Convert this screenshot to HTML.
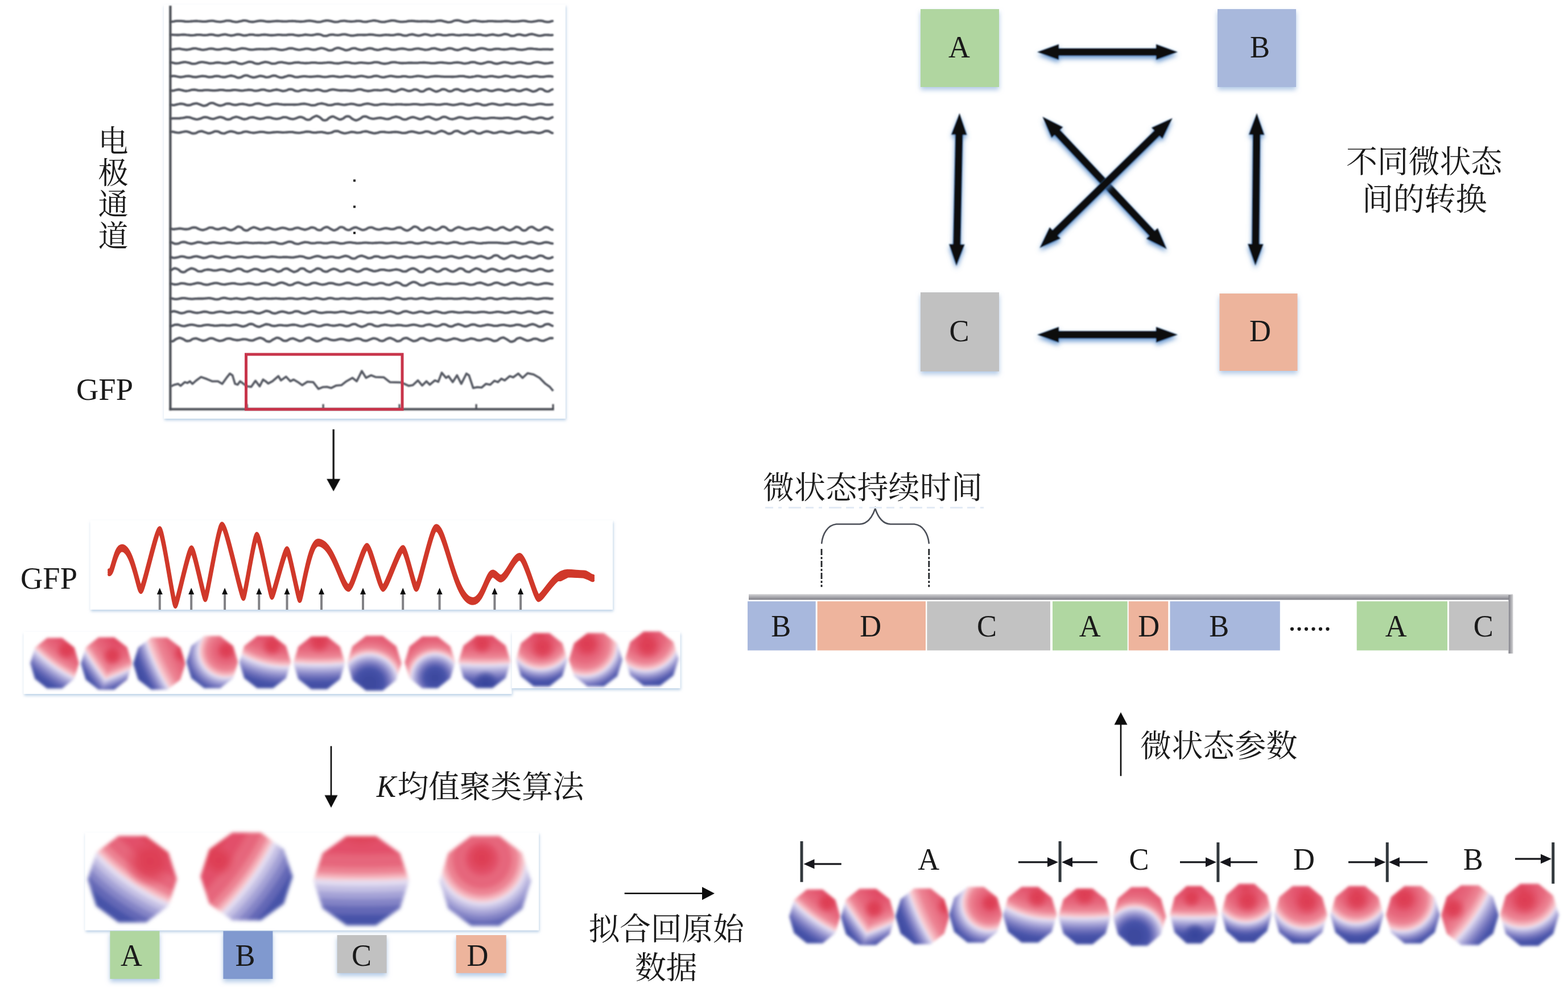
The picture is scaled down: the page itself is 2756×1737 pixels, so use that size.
<!DOCTYPE html>
<html><head><meta charset="utf-8"><title>EEG microstate analysis</title>
<style>html,body{margin:0;padding:0;background:#fff}svg{display:block}text{font-family:"Liberation Serif","Noto Serif CJK SC",serif}</style></head>
<body><svg width="2756" height="1737" viewBox="0 0 2756 1737">
<defs><filter id="bl0_5" x="-10%" y="-10%" width="120%" height="120%"><feGaussianBlur stdDeviation="0.5"/></filter><filter id="bl0_7" x="-10%" y="-10%" width="120%" height="120%"><feGaussianBlur stdDeviation="0.7"/></filter><filter id="bl0_9" x="-10%" y="-10%" width="120%" height="120%"><feGaussianBlur stdDeviation="0.9"/></filter><filter id="bl1_1" x="-10%" y="-10%" width="120%" height="120%"><feGaussianBlur stdDeviation="1.1"/></filter><filter id="bl1_3" x="-10%" y="-10%" width="120%" height="120%"><feGaussianBlur stdDeviation="1.3"/></filter><filter id="bl1_6" x="-10%" y="-10%" width="120%" height="120%"><feGaussianBlur stdDeviation="1.6"/></filter><filter id="bl2_0" x="-10%" y="-10%" width="120%" height="120%"><feGaussianBlur stdDeviation="2.0"/></filter><filter id="bl2_5" x="-10%" y="-10%" width="120%" height="120%"><feGaussianBlur stdDeviation="2.5"/></filter><filter id="bl2_8" x="-10%" y="-10%" width="120%" height="120%"><feGaussianBlur stdDeviation="2.8"/></filter><filter id="bl3_0" x="-10%" y="-10%" width="120%" height="120%"><feGaussianBlur stdDeviation="3.0"/></filter><filter id="shp" x="-5%" y="-5%" width="110%" height="115%"><feDropShadow dx="1" dy="3" stdDeviation="2.4" flood-color="#a9c4e0" flood-opacity="0.8"/></filter><filter id="shb" x="-15%" y="-15%" width="130%" height="140%"><feDropShadow dx="0" dy="5" stdDeviation="4" flood-color="#9dbbe0" flood-opacity="0.8"/></filter><filter id="sha" filterUnits="userSpaceOnUse" x="1640" y="40" width="660" height="620"><feGaussianBlur in="SourceGraphic" stdDeviation="0.9" result="b"/><feDropShadow in="b" dx="0" dy="5" stdDeviation="4" flood-color="#4f86c8" flood-opacity="0.85"/></filter><radialGradient id="hot"><stop offset="0" stop-color="#dd3c52" stop-opacity="1"/><stop offset="0.45" stop-color="#de4056" stop-opacity="0.85"/><stop offset="0.75" stop-color="#e04a60" stop-opacity="0.4"/><stop offset="1" stop-color="#e2506a" stop-opacity="0"/></radialGradient><radialGradient id="rblob"><stop offset="0" stop-color="#e6667b" stop-opacity="1"/><stop offset="0.5" stop-color="#ec8292" stop-opacity="0.9"/><stop offset="0.8" stop-color="#f3a8b3" stop-opacity="0.6"/><stop offset="1" stop-color="#f7ccd2" stop-opacity="0"/></radialGradient><radialGradient id="cool"><stop offset="0" stop-color="#36439b" stop-opacity="1"/><stop offset="0.5" stop-color="#3a479d" stop-opacity="0.8"/><stop offset="1" stop-color="#3c489e" stop-opacity="0"/></radialGradient><radialGradient id="bblob"><stop offset="0" stop-color="#4652a8" stop-opacity="1"/><stop offset="0.45" stop-color="#6468b6" stop-opacity="0.9"/><stop offset="0.75" stop-color="#a4a2d6" stop-opacity="0.6"/><stop offset="1" stop-color="#c4c0e4" stop-opacity="0"/></radialGradient><linearGradient id="barg" x1="0" y1="0" x2="0" y2="1"><stop offset="0" stop-color="#d4d4d6"/><stop offset="1" stop-color="#7e7e86"/></linearGradient><linearGradient id="barv" x1="0" y1="0" x2="1" y2="0"><stop offset="0" stop-color="#7e7e86"/><stop offset="1" stop-color="#d4d4d6"/></linearGradient><radialGradient id="m1" gradientUnits="userSpaceOnUse" cx="242.1" cy="964.8" r="300.8"><stop offset="0.6099" stop-color="#dd3d53"/><stop offset="0.6188" stop-color="#dd3d53"/><stop offset="0.6892" stop-color="#e2506a"/><stop offset="0.6959" stop-color="#e2506a"/><stop offset="0.7522" stop-color="#e6667b"/><stop offset="0.7580" stop-color="#e6667b"/><stop offset="0.7952" stop-color="#ec8292"/><stop offset="0.7977" stop-color="#ec8292"/><stop offset="0.8163" stop-color="#f3a8b3"/><stop offset="0.8179" stop-color="#f3a8b3"/><stop offset="0.8310" stop-color="#f7ccd2"/><stop offset="0.8378" stop-color="#f7ccd2"/><stop offset="0.8378" stop-color="#e2dcf0"/><stop offset="0.8451" stop-color="#e2dcf0"/><stop offset="0.8587" stop-color="#c4c0e4"/><stop offset="0.8604" stop-color="#c4c0e4"/><stop offset="0.8760" stop-color="#a4a2d6"/><stop offset="0.8777" stop-color="#a4a2d6"/><stop offset="0.8943" stop-color="#8484c6"/><stop offset="0.8962" stop-color="#8484c6"/><stop offset="0.9148" stop-color="#6468b6"/><stop offset="0.9171" stop-color="#6468b6"/><stop offset="0.9392" stop-color="#4652a8"/><stop offset="0.9419" stop-color="#4652a8"/><stop offset="0.9916" stop-color="#3c489e"/><stop offset="1.0000" stop-color="#3c489e"/></radialGradient><clipPath id="c1"><polygon points="138.8,1166.0 130.7,1138.6 109.2,1121.6 82.8,1121.6 61.3,1138.6 53.2,1166.0 61.3,1193.4 82.8,1210.4 109.2,1210.4 130.7,1193.4"/></clipPath><radialGradient id="m2" gradientUnits="userSpaceOnUse" cx="742.3" cy="763.0" r="744.1"><stop offset="0.8496" stop-color="#dd3d53"/><stop offset="0.8533" stop-color="#dd3d53"/><stop offset="0.8831" stop-color="#e2506a"/><stop offset="0.8860" stop-color="#e2506a"/><stop offset="0.9098" stop-color="#e6667b"/><stop offset="0.9123" stop-color="#e6667b"/><stop offset="0.9280" stop-color="#ec8292"/><stop offset="0.9291" stop-color="#ec8292"/><stop offset="0.9369" stop-color="#f3a8b3"/><stop offset="0.9377" stop-color="#f3a8b3"/><stop offset="0.9432" stop-color="#f7ccd2"/><stop offset="0.9461" stop-color="#f7ccd2"/><stop offset="0.9461" stop-color="#e2dcf0"/><stop offset="0.9482" stop-color="#e2dcf0"/><stop offset="0.9523" stop-color="#c4c0e4"/><stop offset="0.9528" stop-color="#c4c0e4"/><stop offset="0.9574" stop-color="#a4a2d6"/><stop offset="0.9579" stop-color="#a4a2d6"/><stop offset="0.9628" stop-color="#8484c6"/><stop offset="0.9634" stop-color="#8484c6"/><stop offset="0.9689" stop-color="#6468b6"/><stop offset="0.9696" stop-color="#6468b6"/><stop offset="0.9761" stop-color="#4652a8"/><stop offset="0.9769" stop-color="#4652a8"/><stop offset="0.9965" stop-color="#3c489e"/><stop offset="1.0000" stop-color="#3c489e"/></radialGradient><clipPath id="c2"><polygon points="231.9,1166.5 223.3,1138.1 200.9,1120.6 173.1,1120.6 150.7,1138.1 142.1,1166.5 150.7,1194.9 173.1,1212.4 200.9,1212.4 223.3,1194.9"/></clipPath><radialGradient id="m2v" gradientUnits="userSpaceOnUse" cx="-56.5" cy="532.3" r="744.1"><stop offset="0.8496" stop-color="#dd3d53"/><stop offset="0.8533" stop-color="#dd3d53"/><stop offset="0.8831" stop-color="#e2506a"/><stop offset="0.8860" stop-color="#e2506a"/><stop offset="0.9098" stop-color="#e6667b"/><stop offset="0.9123" stop-color="#e6667b"/><stop offset="0.9280" stop-color="#ec8292"/><stop offset="0.9291" stop-color="#ec8292"/><stop offset="0.9369" stop-color="#f3a8b3"/><stop offset="0.9377" stop-color="#f3a8b3"/><stop offset="0.9432" stop-color="#f7ccd2"/><stop offset="0.9461" stop-color="#f7ccd2"/><stop offset="0.9461" stop-color="#e2dcf0"/><stop offset="0.9482" stop-color="#e2dcf0"/><stop offset="0.9523" stop-color="#c4c0e4"/><stop offset="0.9528" stop-color="#c4c0e4"/><stop offset="0.9574" stop-color="#a4a2d6"/><stop offset="0.9579" stop-color="#a4a2d6"/><stop offset="0.9628" stop-color="#8484c6"/><stop offset="0.9634" stop-color="#8484c6"/><stop offset="0.9689" stop-color="#6468b6"/><stop offset="0.9696" stop-color="#6468b6"/><stop offset="0.9761" stop-color="#4652a8"/><stop offset="0.9769" stop-color="#4652a8"/><stop offset="0.9965" stop-color="#3c489e"/><stop offset="1.0000" stop-color="#3c489e"/></radialGradient><radialGradient id="m3" gradientUnits="userSpaceOnUse" cx="601.4" cy="1016.8" r="404.8"><stop offset="0.6353" stop-color="#dd3d53"/><stop offset="0.6453" stop-color="#dd3d53"/><stop offset="0.7237" stop-color="#e2506a"/><stop offset="0.7312" stop-color="#e2506a"/><stop offset="0.7940" stop-color="#e6667b"/><stop offset="0.8004" stop-color="#e6667b"/><stop offset="0.8419" stop-color="#ec8292"/><stop offset="0.8446" stop-color="#ec8292"/><stop offset="0.8654" stop-color="#f3a8b3"/><stop offset="0.8672" stop-color="#f3a8b3"/><stop offset="0.8818" stop-color="#f7ccd2"/><stop offset="0.8893" stop-color="#f7ccd2"/><stop offset="0.8893" stop-color="#e2dcf0"/><stop offset="0.8940" stop-color="#e2dcf0"/><stop offset="0.9027" stop-color="#c4c0e4"/><stop offset="0.9037" stop-color="#c4c0e4"/><stop offset="0.9137" stop-color="#a4a2d6"/><stop offset="0.9148" stop-color="#a4a2d6"/><stop offset="0.9254" stop-color="#8484c6"/><stop offset="0.9266" stop-color="#8484c6"/><stop offset="0.9384" stop-color="#6468b6"/><stop offset="0.9398" stop-color="#6468b6"/><stop offset="0.9539" stop-color="#4652a8"/><stop offset="0.9556" stop-color="#4652a8"/><stop offset="0.9933" stop-color="#3c489e"/><stop offset="1.0000" stop-color="#3c489e"/></radialGradient><clipPath id="c3"><polygon points="325.9,1166.7 317.1,1138.3 294.2,1120.8 265.8,1120.8 242.9,1138.3 234.1,1166.7 242.9,1195.1 265.8,1212.6 294.2,1212.6 317.1,1195.1"/></clipPath><radialGradient id="m4" gradientUnits="userSpaceOnUse" cx="396.9" cy="1144.0" r="92.4"><stop offset="0.0000" stop-color="#dd3d53"/><stop offset="0.0000" stop-color="#dd3d53"/><stop offset="0.0000" stop-color="#e2506a"/><stop offset="0.0116" stop-color="#e2506a"/><stop offset="0.2057" stop-color="#e6667b"/><stop offset="0.2257" stop-color="#e6667b"/><stop offset="0.3539" stop-color="#ec8292"/><stop offset="0.3624" stop-color="#ec8292"/><stop offset="0.4265" stop-color="#f3a8b3"/><stop offset="0.4323" stop-color="#f3a8b3"/><stop offset="0.4774" stop-color="#f7ccd2"/><stop offset="0.5007" stop-color="#f7ccd2"/><stop offset="0.5007" stop-color="#e2dcf0"/><stop offset="0.5223" stop-color="#e2dcf0"/><stop offset="0.5621" stop-color="#c4c0e4"/><stop offset="0.5670" stop-color="#c4c0e4"/><stop offset="0.6126" stop-color="#a4a2d6"/><stop offset="0.6179" stop-color="#a4a2d6"/><stop offset="0.6665" stop-color="#8484c6"/><stop offset="0.6720" stop-color="#8484c6"/><stop offset="0.7266" stop-color="#6468b6"/><stop offset="0.7331" stop-color="#6468b6"/><stop offset="0.7979" stop-color="#4652a8"/><stop offset="0.8058" stop-color="#4652a8"/><stop offset="0.9711" stop-color="#3c489e"/><stop offset="1.0000" stop-color="#3c489e"/></radialGradient><clipPath id="c4"><polygon points="418.4,1164.0 409.7,1135.6 387.0,1118.1 359.0,1118.1 336.3,1135.6 327.6,1164.0 336.3,1192.4 359.0,1209.9 387.0,1209.9 409.7,1192.4"/></clipPath><radialGradient id="m5" gradientUnits="userSpaceOnUse" cx="502.0" cy="1019.8" r="203.0"><stop offset="0.3875" stop-color="#dd3d53"/><stop offset="0.4016" stop-color="#dd3d53"/><stop offset="0.5121" stop-color="#e2506a"/><stop offset="0.5226" stop-color="#e2506a"/><stop offset="0.6110" stop-color="#e6667b"/><stop offset="0.6201" stop-color="#e6667b"/><stop offset="0.6785" stop-color="#ec8292"/><stop offset="0.6823" stop-color="#ec8292"/><stop offset="0.7115" stop-color="#f3a8b3"/><stop offset="0.7142" stop-color="#f3a8b3"/><stop offset="0.7347" stop-color="#f7ccd2"/><stop offset="0.7453" stop-color="#f7ccd2"/><stop offset="0.7453" stop-color="#e2dcf0"/><stop offset="0.7569" stop-color="#e2dcf0"/><stop offset="0.7782" stop-color="#c4c0e4"/><stop offset="0.7808" stop-color="#c4c0e4"/><stop offset="0.8053" stop-color="#a4a2d6"/><stop offset="0.8081" stop-color="#a4a2d6"/><stop offset="0.8341" stop-color="#8484c6"/><stop offset="0.8371" stop-color="#8484c6"/><stop offset="0.8663" stop-color="#6468b6"/><stop offset="0.8698" stop-color="#6468b6"/><stop offset="0.9045" stop-color="#4652a8"/><stop offset="0.9087" stop-color="#4652a8"/><stop offset="0.9868" stop-color="#3c489e"/><stop offset="1.0000" stop-color="#3c489e"/></radialGradient><clipPath id="c5"><polygon points="511.4,1164.0 502.7,1135.6 480.0,1118.1 452.0,1118.1 429.3,1135.6 420.6,1164.0 429.3,1192.4 452.0,1209.9 480.0,1209.9 502.7,1192.4"/></clipPath><radialGradient id="m6" gradientUnits="userSpaceOnUse" cx="561.0" cy="722.2" r="496.7"><stop offset="0.7497" stop-color="#dd3d53"/><stop offset="0.7554" stop-color="#dd3d53"/><stop offset="0.8006" stop-color="#e2506a"/><stop offset="0.8049" stop-color="#e2506a"/><stop offset="0.8410" stop-color="#e6667b"/><stop offset="0.8447" stop-color="#e6667b"/><stop offset="0.8686" stop-color="#ec8292"/><stop offset="0.8702" stop-color="#ec8292"/><stop offset="0.8821" stop-color="#f3a8b3"/><stop offset="0.8832" stop-color="#f3a8b3"/><stop offset="0.8916" stop-color="#f7ccd2"/><stop offset="0.8959" stop-color="#f7ccd2"/><stop offset="0.8959" stop-color="#e2dcf0"/><stop offset="0.9006" stop-color="#e2dcf0"/><stop offset="0.9093" stop-color="#c4c0e4"/><stop offset="0.9104" stop-color="#c4c0e4"/><stop offset="0.9204" stop-color="#a4a2d6"/><stop offset="0.9216" stop-color="#a4a2d6"/><stop offset="0.9322" stop-color="#8484c6"/><stop offset="0.9334" stop-color="#8484c6"/><stop offset="0.9454" stop-color="#6468b6"/><stop offset="0.9468" stop-color="#6468b6"/><stop offset="0.9610" stop-color="#4652a8"/><stop offset="0.9627" stop-color="#4652a8"/><stop offset="0.9946" stop-color="#3c489e"/><stop offset="1.0000" stop-color="#3c489e"/></radialGradient><clipPath id="c6"><polygon points="606.4,1165.4 597.7,1136.7 575.0,1119.0 547.0,1119.0 524.3,1136.7 515.6,1165.4 524.3,1194.1 547.0,1211.8 575.0,1211.8 597.7,1194.1"/></clipPath><radialGradient id="m7" gradientUnits="userSpaceOnUse" cx="649.2" cy="1201.4" r="113.4"><stop offset="0.0513" stop-color="#3c489e"/><stop offset="0.0760" stop-color="#3c489e"/><stop offset="0.2158" stop-color="#4652a8"/><stop offset="0.2222" stop-color="#4652a8"/><stop offset="0.2744" stop-color="#6468b6"/><stop offset="0.2797" stop-color="#6468b6"/><stop offset="0.3236" stop-color="#8484c6"/><stop offset="0.3281" stop-color="#8484c6"/><stop offset="0.3673" stop-color="#a4a2d6"/><stop offset="0.3715" stop-color="#a4a2d6"/><stop offset="0.4083" stop-color="#c4c0e4"/><stop offset="0.4123" stop-color="#c4c0e4"/><stop offset="0.4443" stop-color="#e2dcf0"/><stop offset="0.4617" stop-color="#e2dcf0"/><stop offset="0.4617" stop-color="#f7ccd2"/><stop offset="0.4777" stop-color="#f7ccd2"/><stop offset="0.5086" stop-color="#f3a8b3"/><stop offset="0.5125" stop-color="#f3a8b3"/><stop offset="0.5565" stop-color="#ec8292"/><stop offset="0.5623" stop-color="#ec8292"/><stop offset="0.6501" stop-color="#e6667b"/><stop offset="0.6639" stop-color="#e6667b"/><stop offset="0.7968" stop-color="#e2506a"/><stop offset="0.8127" stop-color="#e2506a"/><stop offset="0.9789" stop-color="#dd3d53"/><stop offset="1.0000" stop-color="#dd3d53"/></radialGradient><clipPath id="c7"><polygon points="705.7,1166.0 696.6,1136.2 672.7,1117.7 643.3,1117.7 619.4,1136.2 610.3,1166.0 619.4,1195.8 643.3,1214.3 672.7,1214.3 696.6,1195.8"/></clipPath><radialGradient id="m8" gradientUnits="userSpaceOnUse" cx="764.6" cy="1191.8" r="100.3"><stop offset="0.0019" stop-color="#3c489e"/><stop offset="0.0279" stop-color="#3c489e"/><stop offset="0.1750" stop-color="#4652a8"/><stop offset="0.1817" stop-color="#4652a8"/><stop offset="0.2366" stop-color="#6468b6"/><stop offset="0.2422" stop-color="#6468b6"/><stop offset="0.2884" stop-color="#8484c6"/><stop offset="0.2931" stop-color="#8484c6"/><stop offset="0.3344" stop-color="#a4a2d6"/><stop offset="0.3388" stop-color="#a4a2d6"/><stop offset="0.3775" stop-color="#c4c0e4"/><stop offset="0.3817" stop-color="#c4c0e4"/><stop offset="0.4154" stop-color="#e2dcf0"/><stop offset="0.4337" stop-color="#e2dcf0"/><stop offset="0.4337" stop-color="#f7ccd2"/><stop offset="0.4505" stop-color="#f7ccd2"/><stop offset="0.4830" stop-color="#f3a8b3"/><stop offset="0.4872" stop-color="#f3a8b3"/><stop offset="0.5334" stop-color="#ec8292"/><stop offset="0.5395" stop-color="#ec8292"/><stop offset="0.6319" stop-color="#e6667b"/><stop offset="0.6464" stop-color="#e6667b"/><stop offset="0.7863" stop-color="#e2506a"/><stop offset="0.8029" stop-color="#e2506a"/><stop offset="0.9778" stop-color="#dd3d53"/><stop offset="1.0000" stop-color="#dd3d53"/></radialGradient><clipPath id="c8"><polygon points="800.1,1164.5 791.6,1136.4 769.4,1119.1 742.0,1119.1 719.8,1136.4 711.3,1164.5 719.8,1192.6 742.0,1209.9 769.4,1209.9 791.6,1192.6"/></clipPath><radialGradient id="m9" gradientUnits="userSpaceOnUse" cx="851.7" cy="628.0" r="592.3"><stop offset="0.7877" stop-color="#dd3d53"/><stop offset="0.7926" stop-color="#dd3d53"/><stop offset="0.8309" stop-color="#e2506a"/><stop offset="0.8345" stop-color="#e2506a"/><stop offset="0.8652" stop-color="#e6667b"/><stop offset="0.8683" stop-color="#e6667b"/><stop offset="0.8886" stop-color="#ec8292"/><stop offset="0.8899" stop-color="#ec8292"/><stop offset="0.9000" stop-color="#f3a8b3"/><stop offset="0.9009" stop-color="#f3a8b3"/><stop offset="0.9080" stop-color="#f7ccd2"/><stop offset="0.9117" stop-color="#f7ccd2"/><stop offset="0.9117" stop-color="#e2dcf0"/><stop offset="0.9157" stop-color="#e2dcf0"/><stop offset="0.9231" stop-color="#c4c0e4"/><stop offset="0.9240" stop-color="#c4c0e4"/><stop offset="0.9325" stop-color="#a4a2d6"/><stop offset="0.9335" stop-color="#a4a2d6"/><stop offset="0.9425" stop-color="#8484c6"/><stop offset="0.9435" stop-color="#8484c6"/><stop offset="0.9537" stop-color="#6468b6"/><stop offset="0.9549" stop-color="#6468b6"/><stop offset="0.9669" stop-color="#4652a8"/><stop offset="0.9684" stop-color="#4652a8"/><stop offset="0.9954" stop-color="#3c489e"/><stop offset="1.0000" stop-color="#3c489e"/></radialGradient><clipPath id="c9"><polygon points="897.6,1163.5 888.8,1135.1 865.9,1117.6 837.5,1117.6 814.6,1135.1 805.8,1163.5 814.6,1191.9 837.5,1209.4 865.9,1209.4 888.8,1191.9"/></clipPath><radialGradient id="m10" gradientUnits="userSpaceOnUse" cx="950.5" cy="1118.2" r="97.9"><stop offset="0.0000" stop-color="#dd3d53"/><stop offset="0.0000" stop-color="#dd3d53"/><stop offset="0.1067" stop-color="#e2506a"/><stop offset="0.1284" stop-color="#e2506a"/><stop offset="0.3106" stop-color="#e6667b"/><stop offset="0.3294" stop-color="#e6667b"/><stop offset="0.4498" stop-color="#ec8292"/><stop offset="0.4578" stop-color="#ec8292"/><stop offset="0.5180" stop-color="#f3a8b3"/><stop offset="0.5234" stop-color="#f3a8b3"/><stop offset="0.5657" stop-color="#f7ccd2"/><stop offset="0.5876" stop-color="#f7ccd2"/><stop offset="0.5876" stop-color="#e2dcf0"/><stop offset="0.6043" stop-color="#e2dcf0"/><stop offset="0.6351" stop-color="#c4c0e4"/><stop offset="0.6389" stop-color="#c4c0e4"/><stop offset="0.6742" stop-color="#a4a2d6"/><stop offset="0.6782" stop-color="#a4a2d6"/><stop offset="0.7158" stop-color="#8484c6"/><stop offset="0.7201" stop-color="#8484c6"/><stop offset="0.7622" stop-color="#6468b6"/><stop offset="0.7673" stop-color="#6468b6"/><stop offset="0.8174" stop-color="#4652a8"/><stop offset="0.8235" stop-color="#4652a8"/><stop offset="0.9729" stop-color="#3c489e"/><stop offset="1.0000" stop-color="#3c489e"/></radialGradient><clipPath id="c10"><polygon points="997.1,1159.8 988.5,1130.8 965.9,1112.9 938.1,1112.9 915.5,1130.8 906.9,1159.8 915.5,1188.8 938.1,1206.7 965.9,1206.7 988.5,1188.8"/></clipPath><radialGradient id="m11" gradientUnits="userSpaceOnUse" cx="1028.5" cy="1132.3" r="97.2"><stop offset="0.0000" stop-color="#dd3d53"/><stop offset="0.0000" stop-color="#dd3d53"/><stop offset="0.0644" stop-color="#e2506a"/><stop offset="0.0871" stop-color="#e2506a"/><stop offset="0.2780" stop-color="#e6667b"/><stop offset="0.2977" stop-color="#e6667b"/><stop offset="0.4238" stop-color="#ec8292"/><stop offset="0.4321" stop-color="#ec8292"/><stop offset="0.4952" stop-color="#f3a8b3"/><stop offset="0.5009" stop-color="#f3a8b3"/><stop offset="0.5452" stop-color="#f7ccd2"/><stop offset="0.5681" stop-color="#f7ccd2"/><stop offset="0.5681" stop-color="#e2dcf0"/><stop offset="0.5856" stop-color="#e2dcf0"/><stop offset="0.6178" stop-color="#c4c0e4"/><stop offset="0.6218" stop-color="#c4c0e4"/><stop offset="0.6587" stop-color="#a4a2d6"/><stop offset="0.6630" stop-color="#a4a2d6"/><stop offset="0.7023" stop-color="#8484c6"/><stop offset="0.7069" stop-color="#8484c6"/><stop offset="0.7510" stop-color="#6468b6"/><stop offset="0.7563" stop-color="#6468b6"/><stop offset="0.8088" stop-color="#4652a8"/><stop offset="0.8151" stop-color="#4652a8"/><stop offset="0.9716" stop-color="#3c489e"/><stop offset="1.0000" stop-color="#3c489e"/></radialGradient><clipPath id="c11"><polygon points="1093.9,1159.8 1085.0,1130.8 1061.5,1112.9 1032.5,1112.9 1009.0,1130.8 1000.1,1159.8 1009.0,1188.8 1032.5,1206.7 1061.5,1206.7 1085.0,1188.8"/></clipPath><radialGradient id="m12" gradientUnits="userSpaceOnUse" cx="1134.5" cy="1119.1" r="100.9"><stop offset="0.0000" stop-color="#dd3d53"/><stop offset="0.0000" stop-color="#dd3d53"/><stop offset="0.0985" stop-color="#e2506a"/><stop offset="0.1204" stop-color="#e2506a"/><stop offset="0.3043" stop-color="#e6667b"/><stop offset="0.3233" stop-color="#e6667b"/><stop offset="0.4448" stop-color="#ec8292"/><stop offset="0.4528" stop-color="#ec8292"/><stop offset="0.5136" stop-color="#f3a8b3"/><stop offset="0.5191" stop-color="#f3a8b3"/><stop offset="0.5618" stop-color="#f7ccd2"/><stop offset="0.5838" stop-color="#f7ccd2"/><stop offset="0.5838" stop-color="#e2dcf0"/><stop offset="0.6007" stop-color="#e2dcf0"/><stop offset="0.6317" stop-color="#c4c0e4"/><stop offset="0.6356" stop-color="#c4c0e4"/><stop offset="0.6712" stop-color="#a4a2d6"/><stop offset="0.6753" stop-color="#a4a2d6"/><stop offset="0.7132" stop-color="#8484c6"/><stop offset="0.7176" stop-color="#8484c6"/><stop offset="0.7601" stop-color="#6468b6"/><stop offset="0.7652" stop-color="#6468b6"/><stop offset="0.8158" stop-color="#4652a8"/><stop offset="0.8219" stop-color="#4652a8"/><stop offset="0.9726" stop-color="#3c489e"/><stop offset="1.0000" stop-color="#3c489e"/></radialGradient><clipPath id="c12"><polygon points="1192.6,1158.0 1183.7,1128.5 1160.2,1110.3 1131.2,1110.3 1107.7,1128.5 1098.8,1158.0 1107.7,1187.5 1131.2,1205.7 1160.2,1205.7 1183.7,1187.5"/></clipPath><radialGradient id="m13" gradientUnits="userSpaceOnUse" cx="441.4" cy="1247.4" r="474.6"><stop offset="0.5625" stop-color="#dd3d53"/><stop offset="0.6088" stop-color="#dd3d53"/><stop offset="0.6359" stop-color="#e2506a"/><stop offset="0.6706" stop-color="#e2506a"/><stop offset="0.6922" stop-color="#e6667b"/><stop offset="0.7223" stop-color="#e6667b"/><stop offset="0.7366" stop-color="#ec8292"/><stop offset="0.7494" stop-color="#ec8292"/><stop offset="0.7565" stop-color="#f3a8b3"/><stop offset="0.7652" stop-color="#f3a8b3"/><stop offset="0.7702" stop-color="#f7ccd2"/><stop offset="0.7787" stop-color="#f7ccd2"/><stop offset="0.7787" stop-color="#e2dcf0"/><stop offset="0.7920" stop-color="#e2dcf0"/><stop offset="0.7994" stop-color="#c4c0e4"/><stop offset="0.8118" stop-color="#c4c0e4"/><stop offset="0.8204" stop-color="#a4a2d6"/><stop offset="0.8336" stop-color="#a4a2d6"/><stop offset="0.8427" stop-color="#8484c6"/><stop offset="0.8568" stop-color="#8484c6"/><stop offset="0.8670" stop-color="#6468b6"/><stop offset="0.8835" stop-color="#6468b6"/><stop offset="0.8957" stop-color="#4652a8"/><stop offset="0.9155" stop-color="#4652a8"/><stop offset="0.9416" stop-color="#3c489e"/><stop offset="1.0000" stop-color="#3c489e"/></radialGradient><clipPath id="c13"><polygon points="311.0,1545.7 296.0,1498.7 256.8,1469.7 208.2,1469.7 169.0,1498.7 154.0,1545.7 169.0,1592.7 208.2,1621.7 256.8,1621.7 296.0,1592.7"/></clipPath><radialGradient id="m14" gradientUnits="userSpaceOnUse" cx="53.9" cy="1265.3" r="585.4"><stop offset="0.6338" stop-color="#dd3d53"/><stop offset="0.6726" stop-color="#dd3d53"/><stop offset="0.6952" stop-color="#e2506a"/><stop offset="0.7243" stop-color="#e2506a"/><stop offset="0.7424" stop-color="#e6667b"/><stop offset="0.7676" stop-color="#e6667b"/><stop offset="0.7795" stop-color="#ec8292"/><stop offset="0.7902" stop-color="#ec8292"/><stop offset="0.7962" stop-color="#f3a8b3"/><stop offset="0.8035" stop-color="#f3a8b3"/><stop offset="0.8077" stop-color="#f7ccd2"/><stop offset="0.8148" stop-color="#f7ccd2"/><stop offset="0.8148" stop-color="#e2dcf0"/><stop offset="0.8259" stop-color="#e2dcf0"/><stop offset="0.8321" stop-color="#c4c0e4"/><stop offset="0.8425" stop-color="#c4c0e4"/><stop offset="0.8496" stop-color="#a4a2d6"/><stop offset="0.8607" stop-color="#a4a2d6"/><stop offset="0.8683" stop-color="#8484c6"/><stop offset="0.8801" stop-color="#8484c6"/><stop offset="0.8886" stop-color="#6468b6"/><stop offset="0.9025" stop-color="#6468b6"/><stop offset="0.9127" stop-color="#4652a8"/><stop offset="0.9293" stop-color="#4652a8"/><stop offset="0.9511" stop-color="#3c489e"/><stop offset="1.0000" stop-color="#3c489e"/></radialGradient><clipPath id="c14"><polygon points="514.5,1541.0 499.0,1493.2 458.5,1463.7 408.3,1463.7 367.8,1493.2 352.3,1541.0 367.8,1588.8 408.3,1618.3 458.5,1618.3 499.0,1588.8"/></clipPath><radialGradient id="m15" gradientUnits="userSpaceOnUse" cx="635.0" cy="228.5" r="1436.8"><stop offset="0.8469" stop-color="#dd3d53"/><stop offset="0.8623" stop-color="#dd3d53"/><stop offset="0.8713" stop-color="#e2506a"/><stop offset="0.8828" stop-color="#e2506a"/><stop offset="0.8900" stop-color="#e6667b"/><stop offset="0.9000" stop-color="#e6667b"/><stop offset="0.9047" stop-color="#ec8292"/><stop offset="0.9090" stop-color="#ec8292"/><stop offset="0.9113" stop-color="#f3a8b3"/><stop offset="0.9142" stop-color="#f3a8b3"/><stop offset="0.9159" stop-color="#f7ccd2"/><stop offset="0.9187" stop-color="#f7ccd2"/><stop offset="0.9187" stop-color="#e2dcf0"/><stop offset="0.9237" stop-color="#e2dcf0"/><stop offset="0.9264" stop-color="#c4c0e4"/><stop offset="0.9311" stop-color="#c4c0e4"/><stop offset="0.9343" stop-color="#a4a2d6"/><stop offset="0.9393" stop-color="#a4a2d6"/><stop offset="0.9427" stop-color="#8484c6"/><stop offset="0.9479" stop-color="#8484c6"/><stop offset="0.9518" stop-color="#6468b6"/><stop offset="0.9580" stop-color="#6468b6"/><stop offset="0.9625" stop-color="#4652a8"/><stop offset="0.9700" stop-color="#4652a8"/><stop offset="0.9793" stop-color="#3c489e"/><stop offset="1.0000" stop-color="#3c489e"/></radialGradient><clipPath id="c15"><polygon points="719.1,1548.5 703.1,1500.0 661.0,1470.0 609.0,1470.0 566.9,1500.0 550.9,1548.5 566.9,1597.0 609.0,1627.0 661.0,1627.0 703.1,1597.0"/></clipPath><radialGradient id="m16" gradientUnits="userSpaceOnUse" cx="847.5" cy="1510.4" r="169.3"><stop offset="0.0000" stop-color="#dd3d53"/><stop offset="0.0000" stop-color="#dd3d53"/><stop offset="0.0370" stop-color="#e2506a"/><stop offset="0.1367" stop-color="#e2506a"/><stop offset="0.1988" stop-color="#e6667b"/><stop offset="0.2853" stop-color="#e6667b"/><stop offset="0.3263" stop-color="#ec8292"/><stop offset="0.3629" stop-color="#ec8292"/><stop offset="0.3834" stop-color="#f3a8b3"/><stop offset="0.4083" stop-color="#f3a8b3"/><stop offset="0.4227" stop-color="#f7ccd2"/><stop offset="0.4471" stop-color="#f7ccd2"/><stop offset="0.4471" stop-color="#e2dcf0"/><stop offset="0.4775" stop-color="#e2dcf0"/><stop offset="0.4946" stop-color="#c4c0e4"/><stop offset="0.5231" stop-color="#c4c0e4"/><stop offset="0.5427" stop-color="#a4a2d6"/><stop offset="0.5731" stop-color="#a4a2d6"/><stop offset="0.5940" stop-color="#8484c6"/><stop offset="0.6263" stop-color="#8484c6"/><stop offset="0.6498" stop-color="#6468b6"/><stop offset="0.6878" stop-color="#6468b6"/><stop offset="0.7156" stop-color="#4652a8"/><stop offset="0.7613" stop-color="#4652a8"/><stop offset="0.8323" stop-color="#3c489e"/><stop offset="1.0000" stop-color="#3c489e"/></radialGradient><clipPath id="c16"><polygon points="933.3,1548.7 918.0,1499.8 877.8,1469.7 828.0,1469.7 787.8,1499.8 772.5,1548.7 787.8,1597.6 828.0,1627.8 877.8,1627.8 918.0,1597.6"/></clipPath><radialGradient id="m17" gradientUnits="userSpaceOnUse" cx="1585.1" cy="1400.5" r="315.1"><stop offset="0.6099" stop-color="#dd3d53"/><stop offset="0.6188" stop-color="#dd3d53"/><stop offset="0.6892" stop-color="#e2506a"/><stop offset="0.6959" stop-color="#e2506a"/><stop offset="0.7522" stop-color="#e6667b"/><stop offset="0.7580" stop-color="#e6667b"/><stop offset="0.7952" stop-color="#ec8292"/><stop offset="0.7977" stop-color="#ec8292"/><stop offset="0.8163" stop-color="#f3a8b3"/><stop offset="0.8179" stop-color="#f3a8b3"/><stop offset="0.8310" stop-color="#f7ccd2"/><stop offset="0.8378" stop-color="#f7ccd2"/><stop offset="0.8378" stop-color="#e2dcf0"/><stop offset="0.8451" stop-color="#e2dcf0"/><stop offset="0.8587" stop-color="#c4c0e4"/><stop offset="0.8604" stop-color="#c4c0e4"/><stop offset="0.8760" stop-color="#a4a2d6"/><stop offset="0.8777" stop-color="#a4a2d6"/><stop offset="0.8943" stop-color="#8484c6"/><stop offset="0.8962" stop-color="#8484c6"/><stop offset="0.9148" stop-color="#6468b6"/><stop offset="0.9171" stop-color="#6468b6"/><stop offset="0.9392" stop-color="#4652a8"/><stop offset="0.9419" stop-color="#4652a8"/><stop offset="0.9916" stop-color="#3c489e"/><stop offset="1.0000" stop-color="#3c489e"/></radialGradient><clipPath id="c17"><polygon points="1476.9,1611.2 1468.3,1581.9 1445.9,1563.8 1418.1,1563.8 1395.7,1581.9 1387.1,1611.2 1395.7,1640.5 1418.1,1658.6 1445.9,1658.6 1468.3,1640.5"/></clipPath><radialGradient id="m18" gradientUnits="userSpaceOnUse" cx="2112.2" cy="1185.5" r="786.4"><stop offset="0.8496" stop-color="#dd3d53"/><stop offset="0.8533" stop-color="#dd3d53"/><stop offset="0.8831" stop-color="#e2506a"/><stop offset="0.8860" stop-color="#e2506a"/><stop offset="0.9098" stop-color="#e6667b"/><stop offset="0.9123" stop-color="#e6667b"/><stop offset="0.9280" stop-color="#ec8292"/><stop offset="0.9291" stop-color="#ec8292"/><stop offset="0.9369" stop-color="#f3a8b3"/><stop offset="0.9377" stop-color="#f3a8b3"/><stop offset="0.9432" stop-color="#f7ccd2"/><stop offset="0.9461" stop-color="#f7ccd2"/><stop offset="0.9461" stop-color="#e2dcf0"/><stop offset="0.9482" stop-color="#e2dcf0"/><stop offset="0.9523" stop-color="#c4c0e4"/><stop offset="0.9528" stop-color="#c4c0e4"/><stop offset="0.9574" stop-color="#a4a2d6"/><stop offset="0.9579" stop-color="#a4a2d6"/><stop offset="0.9628" stop-color="#8484c6"/><stop offset="0.9634" stop-color="#8484c6"/><stop offset="0.9689" stop-color="#6468b6"/><stop offset="0.9696" stop-color="#6468b6"/><stop offset="0.9761" stop-color="#4652a8"/><stop offset="0.9769" stop-color="#4652a8"/><stop offset="0.9965" stop-color="#3c489e"/><stop offset="1.0000" stop-color="#3c489e"/></radialGradient><clipPath id="c18"><polygon points="1572.7,1611.9 1563.7,1581.3 1540.0,1562.4 1510.6,1562.4 1486.9,1581.3 1477.9,1611.9 1486.9,1642.5 1510.6,1661.4 1540.0,1661.4 1563.7,1642.5"/></clipPath><radialGradient id="m18v" gradientUnits="userSpaceOnUse" cx="1268.0" cy="941.6" r="786.4"><stop offset="0.8496" stop-color="#dd3d53"/><stop offset="0.8533" stop-color="#dd3d53"/><stop offset="0.8831" stop-color="#e2506a"/><stop offset="0.8860" stop-color="#e2506a"/><stop offset="0.9098" stop-color="#e6667b"/><stop offset="0.9123" stop-color="#e6667b"/><stop offset="0.9280" stop-color="#ec8292"/><stop offset="0.9291" stop-color="#ec8292"/><stop offset="0.9369" stop-color="#f3a8b3"/><stop offset="0.9377" stop-color="#f3a8b3"/><stop offset="0.9432" stop-color="#f7ccd2"/><stop offset="0.9461" stop-color="#f7ccd2"/><stop offset="0.9461" stop-color="#e2dcf0"/><stop offset="0.9482" stop-color="#e2dcf0"/><stop offset="0.9523" stop-color="#c4c0e4"/><stop offset="0.9528" stop-color="#c4c0e4"/><stop offset="0.9574" stop-color="#a4a2d6"/><stop offset="0.9579" stop-color="#a4a2d6"/><stop offset="0.9628" stop-color="#8484c6"/><stop offset="0.9634" stop-color="#8484c6"/><stop offset="0.9689" stop-color="#6468b6"/><stop offset="0.9696" stop-color="#6468b6"/><stop offset="0.9761" stop-color="#4652a8"/><stop offset="0.9769" stop-color="#4652a8"/><stop offset="0.9965" stop-color="#3c489e"/><stop offset="1.0000" stop-color="#3c489e"/></radialGradient><radialGradient id="m19" gradientUnits="userSpaceOnUse" cx="1953.4" cy="1456.1" r="418.3"><stop offset="0.6353" stop-color="#dd3d53"/><stop offset="0.6453" stop-color="#dd3d53"/><stop offset="0.7237" stop-color="#e2506a"/><stop offset="0.7312" stop-color="#e2506a"/><stop offset="0.7940" stop-color="#e6667b"/><stop offset="0.8004" stop-color="#e6667b"/><stop offset="0.8419" stop-color="#ec8292"/><stop offset="0.8446" stop-color="#ec8292"/><stop offset="0.8654" stop-color="#f3a8b3"/><stop offset="0.8672" stop-color="#f3a8b3"/><stop offset="0.8818" stop-color="#f7ccd2"/><stop offset="0.8893" stop-color="#f7ccd2"/><stop offset="0.8893" stop-color="#e2dcf0"/><stop offset="0.8940" stop-color="#e2dcf0"/><stop offset="0.9027" stop-color="#c4c0e4"/><stop offset="0.9037" stop-color="#c4c0e4"/><stop offset="0.9137" stop-color="#a4a2d6"/><stop offset="0.9148" stop-color="#a4a2d6"/><stop offset="0.9254" stop-color="#8484c6"/><stop offset="0.9266" stop-color="#8484c6"/><stop offset="0.9384" stop-color="#6468b6"/><stop offset="0.9398" stop-color="#6468b6"/><stop offset="0.9539" stop-color="#4652a8"/><stop offset="0.9556" stop-color="#4652a8"/><stop offset="0.9933" stop-color="#3c489e"/><stop offset="1.0000" stop-color="#3c489e"/></radialGradient><clipPath id="c19"><polygon points="1668.7,1611.0 1659.7,1580.7 1636.0,1562.0 1606.6,1562.0 1582.9,1580.7 1573.9,1611.0 1582.9,1641.3 1606.6,1660.0 1636.0,1660.0 1659.7,1641.3"/></clipPath><radialGradient id="m20" gradientUnits="userSpaceOnUse" cx="1739.5" cy="1587.7" r="95.0"><stop offset="0.0000" stop-color="#dd3d53"/><stop offset="0.0000" stop-color="#dd3d53"/><stop offset="0.0000" stop-color="#e2506a"/><stop offset="0.0116" stop-color="#e2506a"/><stop offset="0.2057" stop-color="#e6667b"/><stop offset="0.2257" stop-color="#e6667b"/><stop offset="0.3539" stop-color="#ec8292"/><stop offset="0.3624" stop-color="#ec8292"/><stop offset="0.4265" stop-color="#f3a8b3"/><stop offset="0.4323" stop-color="#f3a8b3"/><stop offset="0.4774" stop-color="#f7ccd2"/><stop offset="0.5007" stop-color="#f7ccd2"/><stop offset="0.5007" stop-color="#e2dcf0"/><stop offset="0.5223" stop-color="#e2dcf0"/><stop offset="0.5621" stop-color="#c4c0e4"/><stop offset="0.5670" stop-color="#c4c0e4"/><stop offset="0.6126" stop-color="#a4a2d6"/><stop offset="0.6179" stop-color="#a4a2d6"/><stop offset="0.6665" stop-color="#8484c6"/><stop offset="0.6720" stop-color="#8484c6"/><stop offset="0.7266" stop-color="#6468b6"/><stop offset="0.7331" stop-color="#6468b6"/><stop offset="0.7979" stop-color="#4652a8"/><stop offset="0.8058" stop-color="#4652a8"/><stop offset="0.9711" stop-color="#3c489e"/><stop offset="1.0000" stop-color="#3c489e"/></radialGradient><clipPath id="c20"><polygon points="1761.7,1608.3 1752.8,1578.0 1729.4,1559.3 1700.6,1559.3 1677.2,1578.0 1668.3,1608.3 1677.2,1638.6 1700.6,1657.3 1729.4,1657.3 1752.8,1638.6"/></clipPath><radialGradient id="m21" gradientUnits="userSpaceOnUse" cx="1847.8" cy="1457.6" r="212.1"><stop offset="0.3875" stop-color="#dd3d53"/><stop offset="0.4016" stop-color="#dd3d53"/><stop offset="0.5121" stop-color="#e2506a"/><stop offset="0.5226" stop-color="#e2506a"/><stop offset="0.6110" stop-color="#e6667b"/><stop offset="0.6201" stop-color="#e6667b"/><stop offset="0.6785" stop-color="#ec8292"/><stop offset="0.6823" stop-color="#ec8292"/><stop offset="0.7115" stop-color="#f3a8b3"/><stop offset="0.7142" stop-color="#f3a8b3"/><stop offset="0.7347" stop-color="#f7ccd2"/><stop offset="0.7453" stop-color="#f7ccd2"/><stop offset="0.7453" stop-color="#e2dcf0"/><stop offset="0.7569" stop-color="#e2dcf0"/><stop offset="0.7782" stop-color="#c4c0e4"/><stop offset="0.7808" stop-color="#c4c0e4"/><stop offset="0.8053" stop-color="#a4a2d6"/><stop offset="0.8081" stop-color="#a4a2d6"/><stop offset="0.8341" stop-color="#8484c6"/><stop offset="0.8371" stop-color="#8484c6"/><stop offset="0.8663" stop-color="#6468b6"/><stop offset="0.8698" stop-color="#6468b6"/><stop offset="0.9045" stop-color="#4652a8"/><stop offset="0.9087" stop-color="#4652a8"/><stop offset="0.9868" stop-color="#3c489e"/><stop offset="1.0000" stop-color="#3c489e"/></radialGradient><clipPath id="c21"><polygon points="1857.6,1608.3 1848.6,1578.0 1824.9,1559.3 1795.5,1559.3 1771.8,1578.0 1762.8,1608.3 1771.8,1638.6 1795.5,1657.3 1824.9,1657.3 1848.6,1638.6"/></clipPath><radialGradient id="m22" gradientUnits="userSpaceOnUse" cx="1906.2" cy="1163.0" r="502.3"><stop offset="0.7497" stop-color="#dd3d53"/><stop offset="0.7554" stop-color="#dd3d53"/><stop offset="0.8006" stop-color="#e2506a"/><stop offset="0.8049" stop-color="#e2506a"/><stop offset="0.8410" stop-color="#e6667b"/><stop offset="0.8447" stop-color="#e6667b"/><stop offset="0.8686" stop-color="#ec8292"/><stop offset="0.8702" stop-color="#ec8292"/><stop offset="0.8821" stop-color="#f3a8b3"/><stop offset="0.8832" stop-color="#f3a8b3"/><stop offset="0.8916" stop-color="#f7ccd2"/><stop offset="0.8959" stop-color="#f7ccd2"/><stop offset="0.8959" stop-color="#e2dcf0"/><stop offset="0.9006" stop-color="#e2dcf0"/><stop offset="0.9093" stop-color="#c4c0e4"/><stop offset="0.9104" stop-color="#c4c0e4"/><stop offset="0.9204" stop-color="#a4a2d6"/><stop offset="0.9216" stop-color="#a4a2d6"/><stop offset="0.9322" stop-color="#8484c6"/><stop offset="0.9334" stop-color="#8484c6"/><stop offset="0.9454" stop-color="#6468b6"/><stop offset="0.9468" stop-color="#6468b6"/><stop offset="0.9610" stop-color="#4652a8"/><stop offset="0.9627" stop-color="#4652a8"/><stop offset="0.9946" stop-color="#3c489e"/><stop offset="1.0000" stop-color="#3c489e"/></radialGradient><clipPath id="c22"><polygon points="1952.1,1611.2 1943.3,1580.9 1920.4,1562.2 1892.0,1562.2 1869.1,1580.9 1860.3,1611.2 1869.1,1641.5 1892.0,1660.2 1920.4,1660.2 1943.3,1641.5"/></clipPath><radialGradient id="m23" gradientUnits="userSpaceOnUse" cx="1994.1" cy="1645.8" r="111.0"><stop offset="0.0513" stop-color="#3c489e"/><stop offset="0.0760" stop-color="#3c489e"/><stop offset="0.2158" stop-color="#4652a8"/><stop offset="0.2222" stop-color="#4652a8"/><stop offset="0.2744" stop-color="#6468b6"/><stop offset="0.2797" stop-color="#6468b6"/><stop offset="0.3236" stop-color="#8484c6"/><stop offset="0.3281" stop-color="#8484c6"/><stop offset="0.3673" stop-color="#a4a2d6"/><stop offset="0.3715" stop-color="#a4a2d6"/><stop offset="0.4083" stop-color="#c4c0e4"/><stop offset="0.4123" stop-color="#c4c0e4"/><stop offset="0.4443" stop-color="#e2dcf0"/><stop offset="0.4617" stop-color="#e2dcf0"/><stop offset="0.4617" stop-color="#f7ccd2"/><stop offset="0.4777" stop-color="#f7ccd2"/><stop offset="0.5086" stop-color="#f3a8b3"/><stop offset="0.5125" stop-color="#f3a8b3"/><stop offset="0.5565" stop-color="#ec8292"/><stop offset="0.5623" stop-color="#ec8292"/><stop offset="0.6501" stop-color="#e6667b"/><stop offset="0.6639" stop-color="#e6667b"/><stop offset="0.7968" stop-color="#e2506a"/><stop offset="0.8127" stop-color="#e2506a"/><stop offset="0.9789" stop-color="#dd3d53"/><stop offset="1.0000" stop-color="#dd3d53"/></radialGradient><clipPath id="c23"><polygon points="2049.4,1611.2 2040.5,1579.4 2017.1,1559.7 1988.3,1559.7 1964.9,1579.4 1956.0,1611.2 1964.9,1643.0 1988.3,1662.7 2017.1,1662.7 2040.5,1643.0"/></clipPath><radialGradient id="m24" gradientUnits="userSpaceOnUse" cx="2098.7" cy="1114.4" r="546.2"><stop offset="0.7877" stop-color="#dd3d53"/><stop offset="0.7926" stop-color="#dd3d53"/><stop offset="0.8309" stop-color="#e2506a"/><stop offset="0.8345" stop-color="#e2506a"/><stop offset="0.8652" stop-color="#e6667b"/><stop offset="0.8683" stop-color="#e6667b"/><stop offset="0.8886" stop-color="#ec8292"/><stop offset="0.8899" stop-color="#ec8292"/><stop offset="0.9000" stop-color="#f3a8b3"/><stop offset="0.9009" stop-color="#f3a8b3"/><stop offset="0.9080" stop-color="#f7ccd2"/><stop offset="0.9117" stop-color="#f7ccd2"/><stop offset="0.9117" stop-color="#e2dcf0"/><stop offset="0.9157" stop-color="#e2dcf0"/><stop offset="0.9231" stop-color="#c4c0e4"/><stop offset="0.9240" stop-color="#c4c0e4"/><stop offset="0.9325" stop-color="#a4a2d6"/><stop offset="0.9335" stop-color="#a4a2d6"/><stop offset="0.9425" stop-color="#8484c6"/><stop offset="0.9435" stop-color="#8484c6"/><stop offset="0.9537" stop-color="#6468b6"/><stop offset="0.9549" stop-color="#6468b6"/><stop offset="0.9669" stop-color="#4652a8"/><stop offset="0.9684" stop-color="#4652a8"/><stop offset="0.9954" stop-color="#3c489e"/><stop offset="1.0000" stop-color="#3c489e"/></radialGradient><clipPath id="c24"><polygon points="2141.0,1608.3 2132.9,1577.1 2111.8,1557.8 2085.6,1557.8 2064.5,1577.1 2056.4,1608.3 2064.5,1639.5 2085.6,1658.8 2111.8,1658.8 2132.9,1639.5"/></clipPath><radialGradient id="m25" gradientUnits="userSpaceOnUse" cx="2189.8" cy="1564.4" r="96.2"><stop offset="0.0000" stop-color="#dd3d53"/><stop offset="0.0000" stop-color="#dd3d53"/><stop offset="0.1067" stop-color="#e2506a"/><stop offset="0.1284" stop-color="#e2506a"/><stop offset="0.3106" stop-color="#e6667b"/><stop offset="0.3294" stop-color="#e6667b"/><stop offset="0.4498" stop-color="#ec8292"/><stop offset="0.4578" stop-color="#ec8292"/><stop offset="0.5180" stop-color="#f3a8b3"/><stop offset="0.5234" stop-color="#f3a8b3"/><stop offset="0.5657" stop-color="#f7ccd2"/><stop offset="0.5876" stop-color="#f7ccd2"/><stop offset="0.5876" stop-color="#e2dcf0"/><stop offset="0.6043" stop-color="#e2dcf0"/><stop offset="0.6351" stop-color="#c4c0e4"/><stop offset="0.6389" stop-color="#c4c0e4"/><stop offset="0.6742" stop-color="#a4a2d6"/><stop offset="0.6782" stop-color="#a4a2d6"/><stop offset="0.7158" stop-color="#8484c6"/><stop offset="0.7201" stop-color="#8484c6"/><stop offset="0.7622" stop-color="#6468b6"/><stop offset="0.7673" stop-color="#6468b6"/><stop offset="0.8174" stop-color="#4652a8"/><stop offset="0.8235" stop-color="#4652a8"/><stop offset="0.9729" stop-color="#3c489e"/><stop offset="1.0000" stop-color="#3c489e"/></radialGradient><clipPath id="c25"><polygon points="2235.6,1605.3 2227.1,1573.5 2204.9,1553.8 2177.5,1553.8 2155.3,1573.5 2146.8,1605.3 2155.3,1637.1 2177.5,1656.8 2204.9,1656.8 2227.1,1637.1"/></clipPath><radialGradient id="m26" gradientUnits="userSpaceOnUse" cx="2293.2" cy="1572.4" r="101.2"><stop offset="0.0000" stop-color="#dd3d53"/><stop offset="0.0000" stop-color="#dd3d53"/><stop offset="0.1067" stop-color="#e2506a"/><stop offset="0.1284" stop-color="#e2506a"/><stop offset="0.3106" stop-color="#e6667b"/><stop offset="0.3294" stop-color="#e6667b"/><stop offset="0.4498" stop-color="#ec8292"/><stop offset="0.4578" stop-color="#ec8292"/><stop offset="0.5180" stop-color="#f3a8b3"/><stop offset="0.5234" stop-color="#f3a8b3"/><stop offset="0.5657" stop-color="#f7ccd2"/><stop offset="0.5876" stop-color="#f7ccd2"/><stop offset="0.5876" stop-color="#e2dcf0"/><stop offset="0.6043" stop-color="#e2dcf0"/><stop offset="0.6351" stop-color="#c4c0e4"/><stop offset="0.6389" stop-color="#c4c0e4"/><stop offset="0.6742" stop-color="#a4a2d6"/><stop offset="0.6782" stop-color="#a4a2d6"/><stop offset="0.7158" stop-color="#8484c6"/><stop offset="0.7201" stop-color="#8484c6"/><stop offset="0.7622" stop-color="#6468b6"/><stop offset="0.7673" stop-color="#6468b6"/><stop offset="0.8174" stop-color="#4652a8"/><stop offset="0.8235" stop-color="#4652a8"/><stop offset="0.9729" stop-color="#3c489e"/><stop offset="1.0000" stop-color="#3c489e"/></radialGradient><clipPath id="c26"><polygon points="2332.9,1608.3 2324.0,1577.1 2300.6,1557.8 2271.8,1557.8 2248.4,1577.1 2239.5,1608.3 2248.4,1639.5 2271.8,1658.8 2300.6,1658.8 2324.0,1639.5"/></clipPath><radialGradient id="m27" gradientUnits="userSpaceOnUse" cx="2383.6" cy="1568.1" r="96.6"><stop offset="0.0000" stop-color="#dd3d53"/><stop offset="0.0000" stop-color="#dd3d53"/><stop offset="0.0644" stop-color="#e2506a"/><stop offset="0.0871" stop-color="#e2506a"/><stop offset="0.2780" stop-color="#e6667b"/><stop offset="0.2977" stop-color="#e6667b"/><stop offset="0.4238" stop-color="#ec8292"/><stop offset="0.4321" stop-color="#ec8292"/><stop offset="0.4952" stop-color="#f3a8b3"/><stop offset="0.5009" stop-color="#f3a8b3"/><stop offset="0.5452" stop-color="#f7ccd2"/><stop offset="0.5681" stop-color="#f7ccd2"/><stop offset="0.5681" stop-color="#e2dcf0"/><stop offset="0.5856" stop-color="#e2dcf0"/><stop offset="0.6178" stop-color="#c4c0e4"/><stop offset="0.6218" stop-color="#c4c0e4"/><stop offset="0.6587" stop-color="#a4a2d6"/><stop offset="0.6630" stop-color="#a4a2d6"/><stop offset="0.7023" stop-color="#8484c6"/><stop offset="0.7069" stop-color="#8484c6"/><stop offset="0.7510" stop-color="#6468b6"/><stop offset="0.7563" stop-color="#6468b6"/><stop offset="0.8088" stop-color="#4652a8"/><stop offset="0.8151" stop-color="#4652a8"/><stop offset="0.9716" stop-color="#3c489e"/><stop offset="1.0000" stop-color="#3c489e"/></radialGradient><clipPath id="c27"><polygon points="2431.7,1608.3 2422.8,1577.1 2399.4,1557.8 2370.6,1557.8 2347.2,1577.1 2338.3,1608.3 2347.2,1639.5 2370.6,1658.8 2399.4,1658.8 2422.8,1639.5"/></clipPath><radialGradient id="m28" gradientUnits="userSpaceOnUse" cx="2464.6" cy="1580.5" r="98.2"><stop offset="0.0000" stop-color="#dd3d53"/><stop offset="0.0000" stop-color="#dd3d53"/><stop offset="0.0644" stop-color="#e2506a"/><stop offset="0.0871" stop-color="#e2506a"/><stop offset="0.2780" stop-color="#e6667b"/><stop offset="0.2977" stop-color="#e6667b"/><stop offset="0.4238" stop-color="#ec8292"/><stop offset="0.4321" stop-color="#ec8292"/><stop offset="0.4952" stop-color="#f3a8b3"/><stop offset="0.5009" stop-color="#f3a8b3"/><stop offset="0.5452" stop-color="#f7ccd2"/><stop offset="0.5681" stop-color="#f7ccd2"/><stop offset="0.5681" stop-color="#e2dcf0"/><stop offset="0.5856" stop-color="#e2dcf0"/><stop offset="0.6178" stop-color="#c4c0e4"/><stop offset="0.6218" stop-color="#c4c0e4"/><stop offset="0.6587" stop-color="#a4a2d6"/><stop offset="0.6630" stop-color="#a4a2d6"/><stop offset="0.7023" stop-color="#8484c6"/><stop offset="0.7069" stop-color="#8484c6"/><stop offset="0.7510" stop-color="#6468b6"/><stop offset="0.7563" stop-color="#6468b6"/><stop offset="0.8088" stop-color="#4652a8"/><stop offset="0.8151" stop-color="#4652a8"/><stop offset="0.9716" stop-color="#3c489e"/><stop offset="1.0000" stop-color="#3c489e"/></radialGradient><clipPath id="c28"><polygon points="2530.7,1608.3 2521.7,1577.1 2498.0,1557.8 2468.6,1557.8 2444.9,1577.1 2435.9,1608.3 2444.9,1639.5 2468.6,1658.8 2498.0,1658.8 2521.7,1639.5"/></clipPath><radialGradient id="m29" gradientUnits="userSpaceOnUse" cx="2346.8" cy="1443.2" r="354.5"><stop offset="0.5643" stop-color="#dd3d53"/><stop offset="0.5750" stop-color="#dd3d53"/><stop offset="0.6595" stop-color="#e2506a"/><stop offset="0.6675" stop-color="#e2506a"/><stop offset="0.7351" stop-color="#e6667b"/><stop offset="0.7420" stop-color="#e6667b"/><stop offset="0.7867" stop-color="#ec8292"/><stop offset="0.7896" stop-color="#ec8292"/><stop offset="0.8120" stop-color="#f3a8b3"/><stop offset="0.8140" stop-color="#f3a8b3"/><stop offset="0.8296" stop-color="#f7ccd2"/><stop offset="0.8378" stop-color="#f7ccd2"/><stop offset="0.8378" stop-color="#e2dcf0"/><stop offset="0.8451" stop-color="#e2dcf0"/><stop offset="0.8587" stop-color="#c4c0e4"/><stop offset="0.8604" stop-color="#c4c0e4"/><stop offset="0.8760" stop-color="#a4a2d6"/><stop offset="0.8777" stop-color="#a4a2d6"/><stop offset="0.8943" stop-color="#8484c6"/><stop offset="0.8962" stop-color="#8484c6"/><stop offset="0.9148" stop-color="#6468b6"/><stop offset="0.9171" stop-color="#6468b6"/><stop offset="0.9392" stop-color="#4652a8"/><stop offset="0.9419" stop-color="#4652a8"/><stop offset="0.9916" stop-color="#3c489e"/><stop offset="1.0000" stop-color="#3c489e"/></radialGradient><clipPath id="c29"><polygon points="2634.1,1609.0 2624.4,1576.5 2599.2,1556.5 2568.0,1556.5 2542.8,1576.5 2533.1,1609.0 2542.8,1641.5 2568.0,1661.5 2599.2,1661.5 2624.4,1641.5"/></clipPath><radialGradient id="m30" gradientUnits="userSpaceOnUse" cx="2676.1" cy="1565.6" r="110.7"><stop offset="0.0000" stop-color="#dd3d53"/><stop offset="0.0000" stop-color="#dd3d53"/><stop offset="0.0985" stop-color="#e2506a"/><stop offset="0.1204" stop-color="#e2506a"/><stop offset="0.3043" stop-color="#e6667b"/><stop offset="0.3233" stop-color="#e6667b"/><stop offset="0.4448" stop-color="#ec8292"/><stop offset="0.4528" stop-color="#ec8292"/><stop offset="0.5136" stop-color="#f3a8b3"/><stop offset="0.5191" stop-color="#f3a8b3"/><stop offset="0.5618" stop-color="#f7ccd2"/><stop offset="0.5838" stop-color="#f7ccd2"/><stop offset="0.5838" stop-color="#e2dcf0"/><stop offset="0.6007" stop-color="#e2dcf0"/><stop offset="0.6317" stop-color="#c4c0e4"/><stop offset="0.6356" stop-color="#c4c0e4"/><stop offset="0.6712" stop-color="#a4a2d6"/><stop offset="0.6753" stop-color="#a4a2d6"/><stop offset="0.7132" stop-color="#8484c6"/><stop offset="0.7176" stop-color="#8484c6"/><stop offset="0.7601" stop-color="#6468b6"/><stop offset="0.7652" stop-color="#6468b6"/><stop offset="0.8158" stop-color="#4652a8"/><stop offset="0.8219" stop-color="#4652a8"/><stop offset="0.9726" stop-color="#3c489e"/><stop offset="1.0000" stop-color="#3c489e"/></radialGradient><clipPath id="c30"><polygon points="2739.8,1608.3 2730.0,1574.6 2704.2,1553.7 2672.4,1553.7 2646.6,1574.6 2636.8,1608.3 2646.6,1642.0 2672.4,1662.9 2704.2,1662.9 2730.0,1642.0"/></clipPath></defs>
<rect width="2756" height="1737" fill="#fff"/>
<rect x="288.0" y="8.0" width="706.0" height="728.0" fill="#fff" filter="url(#shp)"/>
<g fill="none" stroke="#555962" stroke-width="4.3" stroke-linejoin="round" stroke-linecap="round" filter="url(#bl1_1)"><polyline points="301,38.2 304,37.9 306,37.6 308,37.2 311,36.9 314,36.8 316,36.8 318,36.9 321,37.2 324,37.5 326,37.8 328,37.9 331,37.9 334,37.7 336,37.5 338,37.3 341,37.1 344,37.0 346,37.0 348,37.2 351,37.4 354,37.7 356,37.9 358,37.9 361,37.8 364,37.5 366,37.2 368,36.9 371,36.7 374,36.7 376,36.9 378,37.3 381,37.8 384,38.2 386,38.3 388,38.3 391,37.9 394,37.4 396,36.8 398,36.4 401,36.3 404,36.5 406,36.9 408,37.6 411,38.2 414,38.6 416,38.6 418,38.3 421,37.7 424,37.1 426,36.5 428,36.2 431,36.2 434,36.6 436,37.2 438,37.9 441,38.3 444,38.5 446,38.4 448,38.0 451,37.4 454,36.9 456,36.6 458,36.5 461,36.7 464,37.0 466,37.4 468,37.8 471,38.0 474,38.0 476,37.9 478,37.6 481,37.3 484,37.1 486,37.0 488,37.0 491,37.2 494,37.4 496,37.5 498,37.7 501,37.7 504,37.6 506,37.4 508,37.2 511,37.1 514,37.0 516,37.1 518,37.2 521,37.5 524,37.7 526,37.9 528,38.0 531,37.9 534,37.7 536,37.3 538,37.0 541,36.7 544,36.5 546,36.6 548,36.8 551,37.3 554,37.8 556,38.3 558,38.6 561,38.6 564,38.3 566,37.7 568,37.1 571,36.5 574,36.1 576,36.1 578,36.4 581,36.9 584,37.6 586,38.2 588,38.6 591,38.6 594,38.3 596,37.8 598,37.2 601,36.8 604,36.6 606,36.6 608,37.0 611,37.4 614,37.7 616,37.9 618,37.8 621,37.6 624,37.3 626,37.0 628,36.8 631,36.9 634,37.2 636,37.7 638,38.1 641,38.3 644,38.3 646,38.0 648,37.5 651,37.0 654,36.5 656,36.2 658,36.2 661,36.5 664,37.0 666,37.7 668,38.2 671,38.6 674,38.7 676,38.6 678,38.1 681,37.5 684,36.9 686,36.5 688,36.2 691,36.2 694,36.4 696,36.9 698,37.4 701,37.9 704,38.3 706,38.4 708,38.4 711,38.1 714,37.8 716,37.3 718,37.0 721,36.8 724,36.7 726,36.8 728,37.0 731,37.3 734,37.5 736,37.6 738,37.6 741,37.5 744,37.4 746,37.4 748,37.4 751,37.5 754,37.7 756,37.9 758,38.0 761,37.9 764,37.6 766,37.2 768,36.7 771,36.3 774,36.1 776,36.3 778,36.8 781,37.6 784,38.3 786,38.9 788,39.1 791,38.9 794,38.3 796,37.4 798,36.5 801,35.9 804,35.6 806,35.8 808,36.4 811,37.2 814,38.1 816,38.7 818,38.9 821,38.8 824,38.3 826,37.6 828,37.0 831,36.5 834,36.3 836,36.4 838,36.8 841,37.2 844,37.6 846,37.9 848,38.0 851,37.9 854,37.7 856,37.5 858,37.2 861,37.1 864,37.1 866,37.2 868,37.4 871,37.5 874,37.6 876,37.7 878,37.6 881,37.5 884,37.3 886,37.1 888,37.0 891,37.0 894,37.2 896,37.4 898,37.6 901,37.8 904,37.9 906,37.9 908,37.7 911,37.5 914,37.1 916,36.8 918,36.7 921,36.7 924,37.0 926,37.3 928,37.8 931,38.1 934,38.3 936,38.2 938,37.9 941,37.4 944,36.8 946,36.4 948,36.3 951,36.5 954,36.9 956,37.6 958,38.2 961,38.6 964,38.7 966,38.4 968,37.7 971,37.0"/><polyline points="301,61.2 304,61.2 306,61.3 308,61.4 311,61.5 314,61.5 316,61.3 318,61.1 321,61.0 324,61.0 326,61.1 328,61.4 331,61.7 334,62.0 336,62.1 338,62.1 341,61.9 344,61.5 346,61.2 348,61.1 351,61.2 354,61.4 356,61.7 358,61.9 361,61.9 364,61.7 366,61.3 368,60.9 371,60.7 374,60.8 376,61.3 378,61.8 381,62.3 384,62.5 386,62.2 388,61.7 391,61.0 394,60.6 396,60.5 398,60.9 401,61.6 404,62.2 406,62.5 408,62.4 411,61.9 414,61.2 416,60.7 418,60.5 421,60.7 424,61.3 426,61.9 428,62.3 431,62.4 434,62.0 436,61.5 438,61.0 441,60.8 444,60.9 446,61.2 448,61.6 451,61.9 454,62.0 456,61.9 458,61.5 461,61.2 464,61.0 466,61.0 468,61.2 471,61.5 474,61.8 476,62.0 478,62.0 481,61.9 484,61.6 486,61.4 488,61.2 491,61.2 494,61.3 496,61.5 498,61.6 501,61.6 504,61.5 506,61.2 508,61.0 511,60.8 514,60.9 516,61.2 518,61.7 521,62.1 524,62.5 526,62.5 528,62.2 531,61.8 534,61.3 536,61.0 538,61.0 541,61.3 544,61.7 546,61.9 548,61.9 551,61.5 554,60.9 556,60.3 558,60.1 561,60.3 564,61.0 566,61.9 568,62.8 571,63.2 574,63.1 576,62.5 578,61.7 581,61.0 584,60.8 586,60.9 588,61.3 591,61.7 594,61.9 596,61.7 598,61.3 601,60.7 604,60.3 606,60.3 608,60.6 611,61.3 614,62.0 616,62.5 618,62.7 621,62.6 624,62.2 626,61.8 628,61.5 631,61.3 634,61.3 636,61.4 638,61.5 641,61.5 644,61.3 646,61.1 648,60.8 651,60.7 654,60.8 656,61.0 658,61.4 661,61.9 664,62.2 666,62.4 668,62.3 671,62.0 674,61.6 676,61.3 678,61.2 681,61.3 684,61.5 686,61.8 688,61.9 691,61.8 694,61.4 696,60.9 698,60.5 701,60.5 704,60.8 706,61.4 708,62.2 711,62.6 714,62.7 716,62.3 718,61.5 721,60.8 724,60.4 726,60.5 728,61.1 731,61.9 734,62.5 736,62.7 738,62.3 741,61.6 744,60.8 746,60.3 748,60.3 751,60.8 754,61.6 756,62.3 758,62.6 761,62.4 764,61.9 766,61.2 768,60.7 771,60.6 774,60.8 776,61.3 778,61.9 781,62.2 784,62.2 786,61.9 788,61.5 791,61.1 794,60.9 796,60.9 798,61.2 801,61.6 804,61.9 806,62.1 808,62.0 811,61.7 814,61.4 816,61.1 818,61.1 821,61.2 824,61.5 826,61.8 828,61.9 831,61.9 834,61.7 836,61.3 838,60.9 841,60.7 844,60.8 846,61.2 848,61.8 851,62.2 854,62.5 856,62.3 858,61.9 861,61.3 864,60.9 866,60.7 868,61.0 871,61.6 874,62.1 876,62.4 878,62.2 881,61.6 884,60.7 886,60.1 888,59.8 891,60.3 894,61.1 896,62.2 898,63.0 901,63.2 904,62.8 906,62.1 908,61.2 911,60.7 914,60.6 916,61.1 918,61.7 921,62.3 924,62.3 926,61.9 928,61.2 931,60.4 934,59.9 936,60.0 938,60.5 941,61.3 944,62.2 946,62.7 948,62.8 951,62.6 954,62.1 956,61.6 958,61.3 961,61.3 964,61.5 966,61.7 968,61.8 971,61.7"/><polyline points="301,86.9 304,86.8 306,86.5 308,86.1 311,85.8 314,85.6 316,85.7 318,86.1 321,86.6 324,87.0 326,87.4 328,87.5 331,87.2 334,86.7 336,86.1 338,85.5 341,85.1 344,85.1 346,85.5 348,86.1 351,86.7 354,87.3 356,87.6 358,87.6 361,87.2 364,86.6 366,86.0 368,85.6 371,85.5 374,85.7 376,86.2 378,86.7 381,87.1 384,87.2 386,87.0 388,86.6 391,86.0 394,85.5 396,85.3 398,85.4 401,85.8 404,86.4 406,87.1 408,87.7 411,87.9 414,87.7 416,87.2 418,86.5 421,85.8 424,85.2 426,85.0 428,85.1 431,85.4 434,86.0 436,86.6 438,87.0 441,87.3 444,87.3 446,87.1 448,86.8 451,86.5 454,86.3 456,86.2 458,86.3 461,86.4 464,86.5 466,86.6 468,86.5 471,86.3 474,86.0 476,85.7 478,85.5 481,85.6 484,85.8 486,86.3 488,86.9 491,87.4 494,87.8 496,87.8 498,87.6 501,87.0 504,86.3 506,85.6 508,85.0 511,84.8 514,85.0 516,85.5 518,86.2 521,86.9 524,87.4 526,87.6 528,87.4 531,86.9 534,86.3 536,85.8 538,85.6 541,85.7 544,86.1 546,86.7 548,87.2 551,87.5 554,87.4 556,86.9 558,86.1 561,85.3 564,84.7 566,84.6 568,85.0 571,85.9 574,87.0 576,88.0 578,88.6 581,88.7 584,88.1 586,87.0 588,85.8 591,84.7 594,84.2 596,84.3 598,85.0 601,86.0 604,87.1 606,87.9 608,88.3 611,88.0 614,87.2 616,86.3 618,85.4 621,84.9 624,84.9 626,85.4 628,86.2 631,87.1 634,87.7 636,87.9 638,87.6 641,86.9 644,86.1 646,85.4 648,85.0 651,85.0 654,85.4 656,86.1 658,86.9 661,87.5 664,87.8 666,87.6 668,87.1 671,86.5 674,85.8 676,85.3 678,85.2 681,85.5 684,86.0 686,86.6 688,87.1 691,87.4 694,87.4 696,87.1 698,86.6 701,86.0 704,85.6 706,85.4 708,85.5 711,85.9 714,86.5 716,87.0 718,87.4 721,87.4 724,87.2 726,86.7 728,86.1 731,85.6 734,85.3 736,85.4 738,85.8 741,86.4 744,87.0 746,87.5 748,87.6 751,87.4 754,86.9 756,86.2 758,85.5 761,85.1 764,85.0 766,85.4 768,86.1 771,86.9 774,87.6 776,87.9 778,87.7 781,87.2 784,86.4 786,85.5 788,85.0 791,84.9 794,85.3 796,86.0 798,86.9 801,87.6 804,88.0 806,87.8 808,87.2 811,86.3 814,85.4 816,84.8 818,84.6 821,85.1 824,85.9 826,86.9 828,87.7 831,88.2 834,88.2 836,87.7 838,86.8 841,85.9 844,85.1 846,84.8 848,84.9 851,85.4 854,86.1 856,86.8 858,87.3 861,87.5 864,87.3 866,86.9 868,86.4 871,86.0 874,85.9 876,85.9 878,86.2 881,86.6 884,86.9 886,87.0 888,86.9 891,86.6 894,86.1 896,85.7 898,85.5 901,85.4 904,85.6 906,86.0 908,86.6 911,87.1 914,87.4 916,87.6 918,87.5 921,87.1 924,86.6 926,86.2 928,85.7 931,85.5 934,85.5 936,85.6 938,85.9 941,86.2 944,86.5 946,86.7 948,86.8 951,86.8 954,86.7 956,86.6 958,86.6 961,86.6 964,86.7 966,86.8 968,86.8 971,86.7"/><polyline points="301,109.9 304,110.3 306,110.9 308,111.3 311,111.4 314,111.2 316,110.7 318,110.1 321,109.5 324,109.1 326,109.1 328,109.5 331,110.1 334,110.9 336,111.6 338,112.1 341,112.1 344,111.8 346,111.2 348,110.4 351,109.7 354,109.2 356,109.1 358,109.3 361,109.8 364,110.4 366,110.9 368,111.3 371,111.4 374,111.2 376,110.8 378,110.3 381,110.0 384,109.9 386,110.1 388,110.5 391,111.0 394,111.4 396,111.5 398,111.3 401,110.8 404,110.1 406,109.4 408,109.0 411,108.9 414,109.3 416,110.1 418,111.1 421,111.9 424,112.4 426,112.3 428,111.7 431,110.8 434,109.8 436,109.0 438,108.6 441,108.8 444,109.5 446,110.5 448,111.4 451,112.0 454,112.2 456,111.8 458,111.0 461,110.1 464,109.3 466,108.9 468,109.1 471,109.7 474,110.5 476,111.3 478,111.8 481,111.9 484,111.6 486,111.0 488,110.2 491,109.6 494,109.3 496,109.4 498,109.8 501,110.3 504,110.9 506,111.3 508,111.5 511,111.3 514,110.9 516,110.4 518,110.0 521,109.8 524,109.7 526,109.9 528,110.3 531,110.6 534,110.9 536,111.1 538,111.0 541,110.9 544,110.6 546,110.3 548,110.2 551,110.1 554,110.2 556,110.4 558,110.6 561,110.8 564,110.9 566,110.8 568,110.6 571,110.3 574,110.1 576,109.9 578,109.9 581,110.0 584,110.4 586,110.8 588,111.2 591,111.4 594,111.5 596,111.3 598,110.9 601,110.4 604,109.8 606,109.5 608,109.4 611,109.6 614,109.9 616,110.4 618,110.9 621,111.2 624,111.3 626,111.1 628,110.8 631,110.4 634,110.2 636,110.1 638,110.3 641,110.6 644,110.9 646,111.1 648,111.1 651,110.8 654,110.3 656,109.8 658,109.4 661,109.3 664,109.5 666,109.9 668,110.6 671,111.3 674,111.8 676,112.0 678,111.8 681,111.4 684,110.8 686,110.1 688,109.6 691,109.3 694,109.4 696,109.6 698,110.0 701,110.5 704,110.8 706,111.0 708,111.0 711,110.9 714,110.8 716,110.6 718,110.5 721,110.5 724,110.5 726,110.6 728,110.7 731,110.7 734,110.6 736,110.4 738,110.2 741,110.1 744,110.0 746,110.0 748,110.1 751,110.4 754,110.7 756,110.9 758,111.1 761,111.1 764,111.0 766,110.8 768,110.5 771,110.2 774,109.9 776,109.9 778,110.0 781,110.3 784,110.6 786,110.9 788,111.2 791,111.1 794,110.9 796,110.5 798,110.1 801,109.8 804,109.6 806,109.8 808,110.2 811,110.7 814,111.3 816,111.6 818,111.6 821,111.2 824,110.6 826,109.9 828,109.4 831,109.2 834,109.3 836,109.9 838,110.7 841,111.4 844,111.9 846,112.0 848,111.6 851,110.8 854,110.0 856,109.3 858,108.9 861,109.1 864,109.6 866,110.4 868,111.2 871,111.8 874,112.0 876,111.7 878,111.1 881,110.3 884,109.7 886,109.3 888,109.4 891,109.8 894,110.4 896,111.0 898,111.4 901,111.5 904,111.2 906,110.7 908,110.1 911,109.6 914,109.3 916,109.4 918,109.9 921,110.5 924,111.2 926,111.7 928,111.9 931,111.8 934,111.3 936,110.6 938,109.9 941,109.4 944,109.1 946,109.2 948,109.6 951,110.2 954,110.8 956,111.3 958,111.5 961,111.4 964,111.1 966,110.7 968,110.3 971,110.0"/><polyline points="301,134.0 304,133.6 306,133.6 308,133.9 311,134.5 314,135.1 316,135.5 318,135.5 321,135.2 324,134.7 326,134.2 328,133.8 331,133.7 334,134.0 336,134.4 338,135.0 341,135.4 344,135.5 346,135.3 348,134.8 351,134.3 354,133.8 356,133.7 358,133.8 361,134.2 364,134.8 366,135.3 368,135.5 371,135.4 374,135.0 376,134.4 378,133.9 381,133.7 384,133.9 386,134.3 388,135.0 391,135.5 394,135.7 396,135.5 398,134.8 401,134.0 404,133.3 406,133.0 408,133.3 411,134.0 414,135.1 416,136.0 418,136.6 421,136.5 424,135.7 426,134.6 428,133.5 431,132.7 434,132.6 436,133.1 438,134.1 441,135.2 444,136.0 446,136.2 448,135.9 451,135.1 454,134.2 456,133.6 458,133.5 461,133.9 464,134.6 466,135.4 468,135.8 471,135.7 474,135.1 476,134.2 478,133.4 481,133.0 484,133.1 486,133.8 488,134.8 491,135.8 494,136.4 496,136.4 498,135.9 501,134.9 504,134.0 506,133.2 508,133.0 511,133.2 514,133.8 516,134.6 518,135.3 521,135.6 524,135.6 526,135.2 528,134.8 531,134.3 534,134.1 536,134.1 538,134.3 541,134.7 544,134.9 546,135.0 548,134.9 551,134.6 554,134.3 556,134.1 558,134.0 561,134.2 564,134.5 566,134.9 568,135.2 571,135.3 574,135.2 576,134.9 578,134.5 581,134.1 584,133.9 586,133.9 588,134.2 591,134.6 594,135.0 596,135.3 598,135.3 601,135.0 604,134.6 606,134.2 608,133.9 611,133.8 614,134.1 616,134.6 618,135.1 621,135.4 624,135.5 626,135.2 628,134.7 631,134.1 634,133.7 636,133.7 638,133.9 641,134.5 644,135.1 646,135.6 648,135.6 651,135.3 654,134.8 656,134.1 658,133.6 661,133.4 664,133.7 666,134.3 668,135.0 671,135.6 674,135.8 676,135.6 678,135.1 681,134.5 684,133.9 686,133.7 688,133.7 691,134.1 694,134.6 696,135.0 698,135.1 701,135.1 704,134.8 706,134.5 708,134.2 711,134.2 714,134.4 716,134.8 718,135.1 721,135.3 724,135.2 726,134.9 728,134.5 731,134.0 734,133.7 736,133.6 738,133.8 741,134.2 744,134.7 746,135.2 748,135.5 751,135.6 754,135.4 756,135.0 758,134.6 761,134.3 764,134.0 766,133.9 768,134.0 771,134.2 774,134.4 776,134.6 778,134.7 781,134.8 784,134.8 786,134.8 788,134.9 791,134.9 794,135.0 796,135.0 798,134.9 801,134.7 804,134.4 806,134.1 808,133.9 811,133.8 814,133.9 816,134.2 818,134.7 821,135.1 824,135.5 826,135.6 828,135.4 831,135.0 834,134.5 836,134.0 838,133.7 841,133.7 844,134.1 846,134.6 848,135.1 851,135.3 854,135.3 856,135.0 858,134.5 861,134.0 864,133.8 866,133.9 868,134.3 871,134.8 874,135.3 876,135.6 878,135.5 881,135.0 884,134.4 886,133.8 888,133.5 891,133.6 894,134.1 896,134.7 898,135.4 901,135.7 904,135.6 906,135.2 908,134.5 911,133.9 914,133.6 916,133.6 918,134.0 921,134.6 924,135.2 926,135.5 928,135.5 931,135.2 934,134.7 936,134.1 938,133.8 941,133.8 944,134.1 946,134.5 948,135.0 951,135.2 954,135.2 956,135.0 958,134.6 961,134.2 964,133.9 966,134.0 968,134.2 971,134.7"/><polyline points="301,159.4 304,159.5 306,159.1 308,158.5 311,157.8 314,157.5 316,157.6 318,158.2 321,158.9 324,159.6 326,160.0 328,160.0 331,159.5 334,158.8 336,158.2 338,157.8 341,157.7 344,158.0 346,158.4 348,158.9 351,159.2 354,159.2 356,159.0 358,158.7 361,158.4 364,158.3 366,158.4 368,158.6 371,158.9 374,159.2 376,159.2 378,159.1 381,158.8 384,158.5 386,158.2 388,158.1 391,158.2 394,158.5 396,158.9 398,159.1 401,159.2 404,159.1 406,158.8 408,158.5 411,158.2 414,158.1 416,158.3 418,158.6 421,159.0 424,159.3 426,159.3 428,159.1 431,158.7 434,158.3 436,158.0 438,158.0 441,158.2 444,158.7 446,159.3 448,159.6 451,159.6 454,159.2 456,158.6 458,158.0 461,157.6 464,157.7 466,158.1 468,158.8 471,159.5 474,159.8 476,159.7 478,159.2 481,158.4 484,157.8 486,157.5 488,157.8 491,158.5 494,159.3 496,160.0 498,160.1 501,159.7 504,158.8 506,157.8 508,157.1 511,156.9 514,157.4 516,158.3 518,159.4 521,160.2 524,160.4 526,160.0 528,159.2 531,158.4 534,157.8 536,157.6 538,158.0 541,158.6 544,159.2 546,159.4 548,159.3 551,158.8 554,158.1 556,157.6 558,157.5 561,157.8 564,158.6 566,159.5 568,160.1 571,160.4 574,160.2 576,159.5 578,158.7 581,157.9 584,157.4 586,157.4 588,157.6 591,158.1 594,158.6 596,158.9 598,159.0 601,159.0 604,158.8 606,158.8 608,158.9 611,159.1 614,159.4 616,159.6 618,159.6 621,159.3 624,158.7 626,158.1 628,157.5 631,157.1 634,157.2 636,157.6 638,158.3 641,159.1 644,159.7 646,160.0 648,160.0 651,159.6 654,159.1 656,158.7 658,158.4 661,158.4 664,158.5 666,158.7 668,158.8 671,158.6 674,158.2 676,157.7 678,157.4 681,157.5 684,158.0 686,158.8 688,159.8 691,160.6 694,160.9 696,160.5 698,159.5 701,158.3 704,157.2 706,156.7 708,156.9 711,157.7 714,158.7 716,159.6 718,160.0 721,159.8 724,159.0 726,158.1 728,157.4 731,157.4 734,158.1 736,159.2 738,160.3 741,160.9 744,160.6 746,159.6 748,158.2 751,156.8 754,156.1 756,156.3 758,157.3 761,158.8 764,160.3 766,161.0 768,160.9 771,159.9 774,158.6 776,157.4 778,156.8 781,157.0 784,158.0 786,159.2 788,160.2 791,160.5 794,160.1 796,159.1 798,157.9 801,157.0 804,156.8 806,157.4 808,158.4 811,159.6 814,160.4 816,160.5 818,159.9 821,158.9 824,157.9 826,157.2 828,157.2 831,157.7 834,158.6 836,159.5 838,160.1 841,160.0 844,159.5 846,158.6 848,157.8 851,157.4 854,157.5 856,158.0 858,158.9 861,159.6 864,160.0 866,159.8 868,159.3 871,158.4 874,157.7 876,157.4 878,157.6 881,158.2 884,159.0 886,159.8 888,160.1 891,159.8 894,159.2 896,158.3 898,157.6 901,157.3 904,157.6 906,158.4 908,159.3 911,160.0 914,160.2 916,159.7 918,158.8 921,157.7 924,157.0 926,156.9 928,157.6 931,158.8 934,160.0 936,160.9 938,160.9 941,160.2 944,158.8 946,157.4 948,156.4 951,156.4 954,157.2 956,158.5 958,159.9 961,160.8 964,160.7 966,159.8 968,158.4 971,157.1"/><polyline points="301,184.4 304,184.8 306,184.8 308,184.4 311,183.7 314,183.0 316,182.5 318,182.4 321,182.7 324,183.4 326,184.1 328,184.8 331,185.0 334,184.8 336,184.1 338,183.1 341,182.3 344,181.8 346,181.8 348,182.5 351,183.6 354,184.8 356,185.6 358,186.0 361,185.6 364,184.6 366,183.3 368,182.0 371,181.2 374,181.1 376,181.7 378,182.8 381,184.1 384,185.2 386,185.7 388,185.7 391,185.0 394,184.0 396,183.0 398,182.3 401,182.1 404,182.4 406,183.0 408,183.7 411,184.3 414,184.5 416,184.3 418,183.8 421,183.2 424,182.8 426,182.7 428,183.0 431,183.5 434,184.2 436,184.7 438,185.0 441,184.8 444,184.3 446,183.5 448,182.7 451,182.1 454,181.9 456,182.2 458,182.7 461,183.5 464,184.3 466,184.9 468,185.1 471,185.0 474,184.6 476,184.0 478,183.4 481,182.9 484,182.6 486,182.6 488,182.7 491,183.1 494,183.4 496,183.7 498,183.9 501,184.0 504,183.9 506,183.9 508,183.8 511,183.8 514,183.9 516,184.0 518,184.0 521,183.9 524,183.7 526,183.4 528,183.0 531,182.7 534,182.5 536,182.5 538,182.9 541,183.5 544,184.2 546,184.8 548,185.2 551,185.2 554,184.8 556,184.1 558,183.2 561,182.5 564,182.0 566,181.9 568,182.3 571,183.0 574,183.9 576,184.6 578,184.9 581,184.9 584,184.5 586,183.9 588,183.2 591,182.8 594,182.7 596,183.0 598,183.4 601,183.9 604,184.3 606,184.3 608,184.0 611,183.5 614,183.0 616,182.6 618,182.6 621,182.9 624,183.5 626,184.2 628,184.7 631,185.0 634,184.8 636,184.3 638,183.6 641,182.9 644,182.4 646,182.2 648,182.4 651,183.0 654,183.6 656,184.2 658,184.6 661,184.7 664,184.5 666,184.0 668,183.5 671,183.1 674,182.9 676,182.9 678,183.1 681,183.4 684,183.7 686,183.9 688,184.0 691,183.9 694,183.7 696,183.5 698,183.3 701,183.3 704,183.4 706,183.5 708,183.7 711,183.9 714,184.0 716,183.9 718,183.8 721,183.6 724,183.3 726,183.2 728,183.1 731,183.2 734,183.4 736,183.7 738,184.0 741,184.1 744,184.1 746,183.9 748,183.7 751,183.4 754,183.1 756,183.1 758,183.1 761,183.4 764,183.7 766,184.0 768,184.2 771,184.2 774,184.0 776,183.7 778,183.3 781,182.9 784,182.8 786,182.9 788,183.3 791,183.8 794,184.3 796,184.6 798,184.5 801,184.2 804,183.7 806,183.1 808,182.6 811,182.4 814,182.7 816,183.2 818,183.9 821,184.5 824,184.9 826,184.8 828,184.4 831,183.6 834,182.9 836,182.3 838,182.2 841,182.5 844,183.1 846,183.9 848,184.6 851,185.0 854,184.9 856,184.4 858,183.7 861,183.0 864,182.4 866,182.3 868,182.6 871,183.2 874,183.8 876,184.4 878,184.7 881,184.5 884,184.1 886,183.6 888,183.0 891,182.7 894,182.8 896,183.1 898,183.6 901,184.1 904,184.4 906,184.5 908,184.3 911,183.8 914,183.3 916,182.8 918,182.6 921,182.6 924,183.0 926,183.5 928,184.1 931,184.5 934,184.7 936,184.6 938,184.3 941,183.8 944,183.2 946,182.8 948,182.6 951,182.7 954,183.0 956,183.4 958,183.8 961,184.1 964,184.2 966,184.1 968,183.9 971,183.6"/><polyline points="301,208.3 304,208.2 306,208.2 308,208.2 311,208.2 314,208.1 316,208.0 318,207.7 321,207.3 324,206.8 326,206.3 328,206.0 331,206.1 334,206.5 336,207.2 338,208.0 341,208.9 344,209.6 346,209.8 348,209.6 351,208.9 354,207.9 356,206.9 358,206.2 361,206.0 364,206.3 366,207.0 368,207.9 371,208.7 374,209.1 376,208.9 378,208.3 381,207.3 384,206.4 386,205.9 388,205.9 391,206.6 394,207.6 396,208.8 398,209.7 401,210.0 404,209.7 406,208.8 408,207.6 411,206.5 414,205.7 416,205.5 418,206.0 421,206.9 424,208.0 426,209.0 428,209.5 431,209.5 434,208.9 436,208.0 438,207.0 441,206.4 444,206.1 446,206.4 448,207.0 451,207.8 454,208.6 456,209.0 458,209.1 461,208.7 464,208.1 466,207.3 468,206.7 471,206.4 474,206.5 476,206.9 478,207.6 481,208.4 484,208.9 486,209.2 488,208.9 491,208.3 494,207.5 496,206.7 498,206.2 501,206.1 504,206.4 506,207.2 508,208.1 511,208.9 514,209.4 516,209.3 518,208.7 521,207.7 524,206.6 526,205.9 528,205.7 531,206.2 534,207.4 536,208.7 538,210.0 541,210.6 544,210.4 546,209.4 548,207.7 551,205.8 554,204.3 556,203.7 558,204.2 561,205.6 564,207.7 566,209.7 568,211.2 571,211.6 574,211.0 576,209.5 578,207.6 581,205.9 584,204.9 586,204.9 588,205.9 591,207.4 594,208.9 596,209.9 598,210.1 601,209.3 604,207.8 606,206.2 608,204.9 611,204.4 614,204.9 616,206.2 618,208.1 621,209.9 624,211.2 626,211.6 628,211.0 631,209.7 634,208.0 636,206.4 638,205.2 641,204.7 644,205.0 646,205.9 648,207.0 651,208.0 654,208.7 656,208.9 658,208.7 661,208.2 664,207.6 666,207.3 668,207.2 671,207.5 674,208.1 676,208.7 678,209.2 681,209.3 684,209.0 686,208.3 688,207.3 691,206.3 694,205.5 696,205.2 698,205.5 701,206.3 704,207.5 706,208.7 708,209.6 711,210.1 714,209.9 716,209.1 718,208.0 721,206.9 724,206.1 726,205.9 728,206.3 731,207.2 734,208.2 736,209.1 738,209.5 741,209.3 744,208.4 746,207.3 748,206.2 751,205.5 754,205.4 756,206.1 758,207.3 761,208.6 764,209.7 766,210.3 768,210.1 771,209.2 774,207.9 776,206.6 778,205.7 781,205.4 784,205.8 786,206.8 788,207.9 791,209.0 794,209.5 796,209.5 798,209.0 801,208.1 804,207.1 806,206.4 808,206.2 811,206.4 814,207.0 816,207.7 818,208.4 821,208.8 824,208.8 826,208.5 828,208.0 831,207.5 834,207.0 836,206.8 838,206.9 841,207.2 844,207.6 846,208.0 848,208.4 851,208.5 854,208.4 856,208.2 858,207.8 861,207.4 864,207.2 866,207.1 868,207.1 871,207.4 874,207.6 876,207.9 878,208.0 881,208.0 884,207.8 886,207.5 888,207.3 891,207.1 894,207.2 896,207.5 898,207.9 901,208.5 904,209.0 906,209.2 908,209.1 911,208.6 914,207.8 916,206.9 918,206.0 921,205.5 924,205.6 926,206.1 928,207.0 931,208.1 934,209.0 936,209.5 938,209.5 941,209.0 944,208.2 946,207.4 948,206.8 951,206.7 954,207.1 956,207.9 958,208.6 961,209.1 964,209.1 966,208.5 968,207.5 971,206.3"/><polyline points="301,231.6 304,231.7 306,232.1 308,232.7 311,233.2 314,233.4 316,233.2 318,232.7 321,232.0 324,231.4 326,231.1 328,231.2 331,231.9 334,232.9 336,233.9 338,234.5 341,234.6 344,234.1 346,233.2 348,232.0 351,231.1 354,230.6 356,230.9 358,231.7 361,232.8 364,233.8 366,234.3 368,234.3 371,233.6 374,232.5 376,231.5 378,230.8 381,230.8 384,231.4 386,232.5 388,233.6 391,234.4 394,234.6 396,234.1 398,233.1 401,232.0 404,231.1 406,230.8 408,231.1 411,231.8 414,232.8 416,233.7 418,234.1 421,234.0 424,233.5 426,232.6 428,231.9 431,231.4 434,231.4 436,231.8 438,232.4 441,233.0 444,233.5 446,233.6 448,233.3 451,232.9 454,232.4 456,232.0 458,231.8 461,231.9 464,232.2 466,232.6 468,233.0 471,233.3 474,233.3 476,233.1 478,232.8 481,232.5 484,232.3 486,232.1 488,232.2 491,232.4 494,232.6 496,232.8 498,232.8 501,232.7 504,232.5 506,232.3 508,232.1 511,232.1 514,232.2 516,232.5 518,233.0 521,233.3 524,233.6 526,233.6 528,233.4 531,232.9 534,232.4 536,231.8 538,231.5 541,231.5 544,231.7 546,232.2 548,232.7 551,233.1 554,233.2 556,233.0 558,232.7 561,232.3 564,232.1 566,232.2 568,232.6 571,233.2 574,233.8 576,234.1 578,234.0 581,233.5 584,232.6 586,231.5 588,230.7 591,230.3 594,230.5 596,231.3 598,232.3 601,233.4 604,234.1 606,234.3 608,234.1 611,233.5 614,232.8 616,232.2 618,232.0 621,232.2 624,232.6 626,233.1 628,233.3 631,233.2 634,232.8 636,232.1 638,231.5 641,231.0 644,231.0 646,231.3 648,232.1 651,232.9 654,233.7 656,234.2 658,234.3 661,234.0 664,233.4 666,232.7 668,232.1 671,231.8 674,231.8 676,232.0 678,232.3 681,232.6 684,232.8 686,232.7 688,232.5 691,232.2 694,232.0 696,231.9 698,232.1 701,232.5 704,233.1 706,233.6 708,233.9 711,233.9 714,233.5 716,232.9 718,232.1 721,231.5 724,231.2 726,231.3 728,231.8 731,232.6 734,233.4 736,233.9 738,233.9 741,233.4 744,232.6 746,231.7 748,231.1 751,231.1 754,231.6 756,232.5 758,233.6 761,234.4 764,234.7 766,234.2 768,233.1 771,231.8 774,230.7 776,230.2 778,230.5 781,231.5 784,233.0 786,234.3 788,235.0 791,235.0 794,234.1 796,232.7 798,231.2 801,230.3 804,230.1 806,230.8 808,232.1 811,233.6 814,234.7 816,235.1 818,234.6 821,233.4 824,232.0 826,230.8 828,230.3 831,230.6 834,231.5 836,232.8 838,234.0 841,234.7 844,234.6 846,234.0 848,232.9 851,231.8 854,231.0 856,230.8 858,231.2 861,232.0 864,232.9 866,233.6 868,233.9 871,233.7 874,233.1 876,232.3 878,231.7 881,231.4 884,231.6 886,232.2 888,232.9 891,233.7 894,234.1 896,234.1 898,233.6 901,232.8 904,232.0 906,231.3 908,231.0 911,231.1 914,231.6 916,232.4 918,233.1 921,233.6 924,233.7 926,233.4 928,232.9 931,232.4 934,232.0 936,232.0 938,232.4 941,233.0 944,233.6 946,234.0 948,233.9 951,233.3 954,232.4 956,231.3 958,230.5 961,230.2 964,230.5 966,231.5 968,232.7 971,233.9"/><polyline points="301,402.3 304,402.9 306,403.0 308,402.7 311,402.3 314,401.9 316,401.7 318,401.9 321,402.3 324,402.8 326,403.0 328,403.0 331,402.6 334,401.8 336,400.9 338,400.2 341,399.9 344,400.1 346,400.9 348,402.0 351,403.2 354,404.1 356,404.5 358,404.2 361,403.3 364,402.2 366,401.0 368,400.2 371,400.1 374,400.5 376,401.4 378,402.3 381,403.0 384,403.1 386,402.6 388,401.8 391,401.0 394,400.6 396,400.9 398,401.9 401,403.2 404,404.3 406,404.7 408,404.2 411,402.9 414,401.1 416,399.4 418,398.5 421,398.7 424,399.9 426,401.7 428,403.7 431,405.0 434,405.3 436,404.6 438,403.1 441,401.4 444,400.1 446,399.6 448,400.0 451,401.1 454,402.3 456,403.2 458,403.6 461,403.2 464,402.4 466,401.4 468,400.7 471,400.5 474,400.9 476,401.7 478,402.7 481,403.4 484,403.6 486,403.3 488,402.6 491,401.7 494,400.9 496,400.5 498,400.6 501,401.1 504,402.0 506,402.8 508,403.3 511,403.4 514,403.0 516,402.2 518,401.3 521,400.7 524,400.5 526,400.9 528,401.7 531,402.7 534,403.5 536,403.8 538,403.4 541,402.5 544,401.3 546,400.2 548,399.8 551,400.2 554,401.3 556,402.7 558,404.0 561,404.6 564,404.3 566,403.1 568,401.4 571,399.9 574,399.1 576,399.3 578,400.5 581,402.3 584,403.9 586,404.9 588,404.9 591,403.8 594,402.1 596,400.4 598,399.4 601,399.3 604,400.2 606,401.8 608,403.3 611,404.3 614,404.3 616,403.5 618,402.1 621,400.7 624,399.9 626,399.8 628,400.6 631,401.9 634,403.2 636,404.2 638,404.4 641,403.8 644,402.7 646,401.3 648,400.3 651,399.8 654,399.9 656,400.7 658,401.8 661,402.8 664,403.4 666,403.6 668,403.3 671,402.6 674,401.9 676,401.3 678,401.2 681,401.5 684,402.1 686,402.6 688,402.9 691,402.8 694,402.1 696,401.2 698,400.3 701,399.8 704,400.0 706,400.9 708,402.4 711,404.0 714,405.2 716,405.4 718,404.7 721,403.1 724,401.0 726,399.3 728,398.4 731,398.6 734,399.9 736,401.7 738,403.5 741,404.7 744,404.8 746,403.8 748,402.3 751,400.8 754,400.0 756,400.2 758,401.2 761,402.7 764,404.0 766,404.5 768,404.0 771,402.6 774,400.9 776,399.3 778,398.6 781,399.0 784,400.4 786,402.3 788,404.2 791,405.3 794,405.4 796,404.5 798,403.0 801,401.2 804,399.9 806,399.4 808,399.7 811,400.7 814,401.8 816,402.9 818,403.4 821,403.3 824,402.7 826,402.0 828,401.3 831,401.0 834,401.2 836,401.8 838,402.6 841,403.3 844,403.5 846,403.2 848,402.4 851,401.4 854,400.4 856,399.9 858,400.0 861,400.9 864,402.1 866,403.4 868,404.3 871,404.4 874,403.7 876,402.4 878,400.9 881,399.8 884,399.4 886,400.0 888,401.4 891,403.0 894,404.4 896,404.8 898,404.3 901,402.8 904,401.0 906,399.4 908,398.8 911,399.4 914,400.9 916,402.9 918,404.6 921,405.3 924,404.9 926,403.4 928,401.4 931,399.7 934,398.8 936,399.1 938,400.4 941,402.3 944,404.0 946,404.9 948,404.8 951,403.7 954,402.0 956,400.5 958,399.5 961,399.5 964,400.4 966,401.7 968,403.1 971,404.0"/><polyline points="301,426.1 304,427.1 306,428.1 308,428.7 311,428.7 314,428.1 316,427.2 318,426.2 321,425.5 324,425.3 326,425.8 328,426.6 331,427.5 334,428.2 336,428.5 338,428.3 341,427.6 344,426.8 346,426.1 348,425.7 351,425.8 354,426.3 356,427.0 358,427.6 361,428.0 364,428.1 366,427.7 368,427.2 371,426.6 374,426.2 376,426.1 378,426.3 381,426.8 384,427.3 386,427.7 388,427.9 391,427.7 394,427.4 396,426.9 398,426.5 401,426.2 404,426.2 406,426.4 408,426.8 411,427.2 414,427.6 416,427.8 418,427.8 421,427.5 424,427.1 426,426.8 428,426.5 431,426.4 434,426.4 436,426.6 438,426.9 441,427.1 444,427.3 446,427.3 448,427.2 451,427.1 454,426.9 456,426.9 458,427.0 461,427.2 464,427.4 466,427.5 468,427.4 471,427.1 474,426.7 476,426.2 478,425.9 481,425.9 484,426.2 486,426.9 488,427.6 491,428.3 494,428.7 496,428.7 498,428.1 501,427.1 504,426.1 506,425.3 508,424.9 511,425.2 514,425.9 516,427.0 518,428.0 521,428.7 524,428.9 526,428.5 528,427.8 531,426.9 534,426.1 536,425.7 538,425.8 541,426.2 544,426.8 546,427.3 548,427.6 551,427.6 554,427.3 556,426.9 558,426.7 561,426.6 564,426.7 566,427.1 568,427.5 571,427.7 574,427.7 576,427.5 578,427.0 581,426.4 584,426.0 586,425.9 588,426.1 591,426.6 594,427.2 596,427.7 598,428.0 601,428.1 604,427.8 606,427.4 608,426.8 611,426.4 614,426.1 616,426.1 618,426.4 621,426.8 624,427.2 626,427.5 628,427.6 631,427.5 634,427.3 636,427.1 638,426.8 641,426.6 644,426.6 646,426.8 648,427.0 651,427.2 654,427.3 656,427.3 658,427.2 661,427.0 664,426.8 666,426.6 668,426.6 671,426.7 674,427.0 676,427.3 678,427.5 681,427.6 684,427.4 686,427.2 688,426.8 691,426.5 694,426.3 696,426.4 698,426.7 701,427.1 704,427.5 706,427.8 708,427.8 711,427.6 714,427.1 716,426.5 718,426.1 721,426.0 724,426.2 726,426.7 728,427.3 731,427.9 734,428.2 736,428.0 738,427.6 741,426.9 744,426.3 746,425.9 748,425.9 751,426.3 754,426.9 756,427.5 758,428.0 761,428.0 764,427.7 766,427.1 768,426.5 771,426.1 774,426.1 776,426.4 778,426.9 781,427.5 784,428.0 786,428.0 788,427.8 791,427.2 794,426.5 796,426.0 798,425.7 801,425.9 804,426.4 806,427.1 808,427.8 811,428.2 814,428.3 816,428.1 818,427.5 821,426.8 824,426.2 826,425.9 828,425.8 831,426.0 834,426.5 836,427.0 838,427.4 841,427.7 844,427.8 846,427.8 848,427.5 851,427.2 854,427.0 856,426.8 858,426.7 861,426.6 864,426.6 866,426.7 868,426.7 871,426.7 874,426.7 876,426.8 878,427.0 881,427.3 884,427.5 886,427.8 888,427.9 891,427.8 894,427.5 896,427.0 898,426.4 901,425.9 904,425.7 906,425.7 908,426.1 911,426.8 914,427.6 916,428.2 918,428.6 921,428.5 924,428.0 926,427.2 928,426.4 931,425.7 934,425.4 936,425.6 938,426.2 941,427.1 944,427.8 946,428.3 948,428.3 951,427.8 954,427.1 956,426.4 958,426.0 961,426.0 964,426.4 966,427.0 968,427.7 971,428.1"/><polyline points="301,452.4 304,453.1 306,453.4 308,453.2 311,452.7 314,452.0 316,451.3 318,450.9 321,450.9 324,451.4 326,452.0 328,452.7 331,453.1 334,453.0 336,452.6 338,451.9 341,451.2 344,450.7 346,450.7 348,451.2 351,451.9 354,452.8 356,453.4 358,453.5 361,453.1 364,452.4 366,451.5 368,450.8 371,450.5 374,450.7 376,451.4 378,452.2 381,452.9 384,453.3 386,453.3 388,452.8 391,452.0 394,451.3 396,450.8 398,450.8 401,451.2 404,451.8 406,452.5 408,452.9 411,453.1 414,452.9 416,452.3 418,451.7 421,451.3 424,451.1 426,451.2 428,451.6 431,452.2 434,452.6 436,452.8 438,452.8 441,452.4 444,451.9 446,451.4 448,451.1 451,451.1 454,451.4 456,451.8 458,452.4 461,452.8 464,453.0 466,452.9 468,452.6 471,452.1 474,451.7 476,451.3 478,451.2 481,451.3 484,451.6 486,451.9 488,452.2 491,452.3 494,452.3 496,452.2 498,452.0 501,451.9 504,452.0 506,452.1 508,452.3 511,452.5 514,452.6 516,452.5 518,452.2 521,451.6 524,451.1 526,450.7 528,450.6 531,450.9 534,451.5 536,452.4 538,453.2 541,453.8 544,453.9 546,453.5 548,452.7 551,451.7 554,450.8 556,450.3 558,450.2 561,450.7 564,451.5 566,452.3 568,453.0 571,453.2 574,453.0 576,452.4 578,451.8 581,451.4 584,451.3 586,451.6 588,452.3 591,452.9 594,453.2 596,453.1 598,452.5 601,451.5 604,450.6 606,450.0 608,449.9 611,450.6 614,451.7 616,453.0 618,454.1 621,454.6 624,454.3 626,453.3 628,451.9 631,450.6 634,449.8 636,449.6 638,450.2 641,451.3 644,452.5 646,453.5 648,453.8 651,453.6 654,452.8 656,451.8 658,451.0 661,450.6 664,450.8 666,451.4 668,452.3 671,453.0 674,453.4 676,453.2 678,452.6 681,451.8 684,451.0 686,450.6 688,450.6 691,451.2 694,451.9 696,452.7 698,453.3 701,453.4 704,453.0 706,452.4 708,451.6 711,451.0 714,450.8 716,451.0 718,451.5 721,452.1 724,452.7 726,453.1 728,453.0 731,452.6 734,452.0 736,451.4 738,451.1 741,451.0 744,451.3 746,451.8 748,452.4 751,452.8 754,453.0 756,452.8 758,452.3 761,451.7 764,451.2 766,451.0 768,451.1 771,451.6 774,452.2 776,452.8 778,453.2 781,453.1 784,452.7 786,452.0 788,451.3 791,450.7 794,450.5 796,450.8 798,451.6 801,452.4 804,453.2 806,453.6 808,453.5 811,452.9 814,452.0 816,451.2 818,450.6 821,450.5 824,451.0 826,451.8 828,452.6 831,453.2 834,453.3 836,452.8 838,452.0 841,451.1 844,450.5 846,450.4 848,451.0 851,452.1 854,453.3 856,454.2 858,454.4 861,453.8 864,452.6 866,451.0 868,449.6 871,448.9 874,449.2 876,450.2 878,451.9 881,453.6 884,454.8 886,455.1 888,454.5 891,453.2 894,451.6 896,450.3 898,449.6 901,449.7 904,450.6 906,451.8 908,452.9 911,453.5 914,453.5 916,452.8 918,451.8 921,451.0 924,450.5 926,450.7 928,451.5 931,452.6 934,453.6 936,454.1 938,453.9 941,453.0 944,451.7 946,450.4 948,449.6 951,449.5 954,450.1 956,451.3 958,452.7 961,453.8 964,454.4 966,454.2 968,453.5 971,452.3"/><polyline points="301,474.5 304,472.9 306,471.8 308,471.7 311,472.6 314,474.1 316,476.0 318,477.6 321,478.5 324,478.4 326,477.4 328,475.7 331,474.0 334,472.6 336,471.9 338,472.0 341,472.9 344,474.3 346,475.7 348,476.8 351,477.2 354,477.1 356,476.4 358,475.4 361,474.5 364,474.0 366,473.9 368,474.2 371,474.7 374,475.3 376,475.6 378,475.6 381,475.3 384,474.7 386,474.1 388,473.8 391,473.8 394,474.3 396,475.0 398,475.9 401,476.7 404,477.1 406,476.9 408,476.2 411,475.1 414,473.9 416,472.9 418,472.5 421,472.7 424,473.4 426,474.6 428,476.0 431,477.0 434,477.5 436,477.3 438,476.5 441,475.3 444,474.1 446,473.1 448,472.8 451,473.1 454,474.0 456,475.1 458,476.2 461,476.9 464,476.9 466,476.3 468,475.2 471,474.1 474,473.2 476,472.9 478,473.3 481,474.4 484,475.7 486,476.9 488,477.5 491,477.3 494,476.4 496,475.0 498,473.5 501,472.4 504,472.1 506,472.6 508,473.9 511,475.6 514,477.1 516,478.0 518,478.0 521,477.0 524,475.5 526,473.7 528,472.4 531,471.8 534,472.3 536,473.6 538,475.3 541,476.9 544,478.0 546,478.1 548,477.2 551,475.7 554,474.0 556,472.6 558,472.0 561,472.3 564,473.4 566,475.0 568,476.5 571,477.5 574,477.7 576,477.1 578,475.8 581,474.3 584,473.2 586,472.6 588,472.8 591,473.7 594,475.0 596,476.3 598,477.1 601,477.2 604,476.6 606,475.5 608,474.2 611,473.2 614,472.7 616,472.9 618,473.7 621,475.0 624,476.2 626,477.1 628,477.5 631,477.1 634,476.2 636,475.0 638,473.8 641,472.9 644,472.7 646,473.0 648,473.9 651,474.9 654,475.9 656,476.6 658,476.8 661,476.5 664,475.8 666,475.1 668,474.4 671,474.1 674,474.1 676,474.4 678,474.9 681,475.4 684,475.6 686,475.5 688,475.1 691,474.5 694,474.0 696,473.7 698,473.9 701,474.5 704,475.4 706,476.4 708,477.1 711,477.4 714,477.0 716,475.9 718,474.5 721,473.1 724,472.1 726,471.8 728,472.3 731,473.6 734,475.3 736,477.0 738,478.1 741,478.4 744,477.8 746,476.4 748,474.7 751,473.1 754,472.1 756,472.0 758,472.7 761,474.2 764,475.8 766,477.0 768,477.6 771,477.3 774,476.2 776,474.8 778,473.4 781,472.7 784,472.7 786,473.6 788,474.9 791,476.4 794,477.4 796,477.7 798,477.1 801,475.7 804,474.1 806,472.7 808,472.0 811,472.1 814,473.2 816,474.8 818,476.5 821,477.7 824,478.1 826,477.6 828,476.3 831,474.7 834,473.2 836,472.2 838,472.2 841,473.0 844,474.3 846,475.8 848,477.0 851,477.5 854,477.3 856,476.3 858,475.0 861,473.7 864,472.9 866,472.8 868,473.3 871,474.3 874,475.5 876,476.5 878,477.0 881,476.8 884,476.2 886,475.1 888,474.1 891,473.4 894,473.2 896,473.6 898,474.4 901,475.3 904,476.2 906,476.6 908,476.5 911,476.0 914,475.1 916,474.2 918,473.5 921,473.3 924,473.6 926,474.4 928,475.3 931,476.2 934,476.8 936,476.9 938,476.4 941,475.5 944,474.5 946,473.5 948,473.0 951,473.0 954,473.6 956,474.6 958,475.6 961,476.5 964,476.9 966,476.8 968,476.1 971,475.2"/><polyline points="301,498.8 304,499.5 306,500.0 308,500.1 311,499.8 314,499.3 316,498.7 318,498.2 321,498.1 324,498.3 326,498.8 328,499.4 331,499.9 334,500.2 336,500.0 338,499.5 341,498.8 344,498.1 346,497.6 348,497.5 351,497.8 354,498.4 356,499.2 358,499.9 361,500.5 364,500.6 366,500.3 368,499.8 371,499.0 374,498.3 376,497.8 378,497.6 381,497.7 384,498.2 386,498.8 388,499.4 391,499.9 394,500.1 396,500.0 398,499.7 401,499.2 404,498.7 406,498.3 408,498.1 411,498.2 414,498.5 416,499.0 418,499.4 421,499.7 424,499.8 426,499.7 428,499.3 431,498.8 434,498.3 436,498.0 438,498.0 441,498.3 444,498.9 446,499.5 448,500.1 451,500.3 454,500.2 456,499.8 458,499.0 461,498.2 464,497.5 466,497.3 468,497.5 471,498.2 474,499.1 476,500.1 478,500.8 481,501.0 484,500.6 486,499.8 488,498.6 491,497.6 494,496.9 496,496.8 498,497.4 501,498.4 504,499.6 506,500.7 508,501.3 511,501.2 514,500.5 516,499.4 518,498.2 521,497.2 524,496.7 526,496.9 528,497.7 531,498.8 534,499.9 536,500.7 538,501.0 541,500.7 544,500.0 546,499.0 548,498.0 551,497.4 554,497.3 556,497.7 558,498.4 561,499.3 564,500.0 566,500.4 568,500.4 571,499.9 574,499.2 576,498.4 578,497.8 581,497.6 584,497.8 586,498.3 588,499.1 591,499.8 594,500.4 596,500.6 598,500.4 601,499.8 604,498.9 606,498.1 608,497.5 611,497.2 614,497.4 616,498.0 618,498.9 621,499.8 624,500.5 626,500.9 628,500.8 631,500.2 634,499.3 636,498.4 638,497.6 641,497.2 644,497.3 646,497.9 648,498.7 651,499.6 654,500.3 656,500.5 658,500.3 661,499.6 664,498.8 666,498.0 668,497.6 671,497.7 674,498.2 676,499.1 678,500.1 681,500.7 684,500.9 686,500.4 688,499.4 691,498.2 694,497.1 696,496.4 698,496.5 701,497.3 704,498.6 706,500.2 708,501.5 711,502.2 714,502.0 716,501.1 718,499.6 721,497.9 724,496.5 726,495.8 728,495.9 731,496.7 734,498.1 736,499.6 738,500.9 741,501.7 744,501.7 746,501.1 748,500.0 751,498.8 754,497.8 756,497.2 758,497.1 761,497.5 764,498.2 766,499.0 768,499.6 771,500.0 774,500.0 776,499.7 778,499.3 781,498.8 784,498.5 786,498.5 788,498.6 791,499.0 794,499.4 796,499.7 798,499.7 801,499.6 804,499.2 806,498.7 808,498.2 811,497.8 814,497.8 816,498.0 818,498.6 821,499.3 824,500.1 826,500.6 828,500.7 831,500.4 834,499.7 836,498.8 838,497.9 841,497.3 844,497.0 846,497.3 848,498.0 851,499.1 854,500.1 856,500.8 858,501.1 861,500.7 864,499.9 866,498.9 868,497.8 871,497.1 874,497.0 876,497.4 878,498.3 881,499.4 884,500.4 886,501.0 888,501.0 891,500.4 894,499.4 896,498.3 898,497.4 901,497.0 904,497.2 906,497.9 908,498.9 911,500.0 914,500.7 916,500.9 918,500.6 921,499.8 924,498.9 926,497.9 928,497.4 931,497.3 934,497.7 936,498.4 938,499.3 941,500.0 944,500.4 946,500.4 948,500.0 951,499.3 954,498.7 956,498.1 958,497.9 961,498.0 964,498.3 966,498.8 968,499.4 971,499.8"/><polyline points="301,524.6 304,525.1 306,525.6 308,525.8 311,525.8 314,525.4 316,524.9 318,524.5 321,524.2 324,524.1 326,524.3 328,524.7 331,525.1 334,525.4 336,525.6 338,525.6 341,525.4 344,525.2 346,525.1 348,525.0 351,525.0 354,525.0 356,525.0 358,524.9 361,524.6 364,524.3 366,524.2 368,524.2 371,524.5 374,525.1 376,525.7 378,526.2 381,526.4 384,526.2 386,525.5 388,524.7 391,524.0 394,523.7 396,523.8 398,524.3 401,525.0 404,525.5 406,525.7 408,525.5 411,525.0 414,524.6 416,524.5 418,524.8 421,525.3 424,525.8 426,526.0 428,525.9 431,525.3 434,524.5 436,523.9 438,523.6 441,523.8 444,524.4 446,525.1 448,525.7 451,526.0 454,525.9 456,525.6 458,525.1 461,524.8 464,524.6 466,524.6 468,524.8 471,525.0 474,525.1 476,525.1 478,525.0 481,524.8 484,524.7 486,524.7 488,524.8 491,525.0 494,525.3 496,525.4 498,525.5 501,525.3 504,525.0 506,524.7 508,524.5 511,524.5 514,524.7 516,525.0 518,525.4 521,525.6 524,525.5 526,525.2 528,524.8 531,524.4 534,524.2 536,524.4 538,524.9 541,525.4 544,525.8 546,525.9 548,525.6 551,525.0 554,524.3 556,524.0 558,524.1 561,524.6 564,525.3 566,525.9 568,526.1 571,525.8 574,525.3 576,524.6 578,524.1 581,524.0 584,524.3 586,524.9 588,525.4 591,525.6 594,525.6 596,525.3 598,524.9 601,524.7 604,524.6 606,524.8 608,525.1 611,525.4 614,525.5 616,525.4 618,525.1 621,524.7 624,524.4 626,524.2 628,524.3 631,524.6 634,525.0 636,525.4 638,525.7 641,525.7 644,525.6 646,525.4 648,525.1 651,524.8 654,524.7 656,524.7 658,524.8 661,524.8 664,524.8 666,524.7 668,524.6 671,524.5 674,524.5 676,524.8 678,525.3 681,525.9 684,526.3 686,526.3 688,525.9 691,525.1 694,524.3 696,523.6 698,523.4 701,523.7 704,524.5 706,525.3 708,525.9 711,526.0 714,525.8 716,525.3 718,524.9 721,524.6 724,524.7 726,525.1 728,525.4 731,525.6 734,525.4 736,524.9 738,524.4 741,524.0 744,524.0 746,524.3 748,524.8 751,525.4 754,525.9 756,526.0 758,525.8 761,525.5 764,525.0 766,524.6 768,524.5 771,524.5 774,524.7 776,524.9 778,525.1 781,525.1 784,525.1 786,525.0 788,524.9 791,524.8 794,524.9 796,525.1 798,525.3 801,525.4 804,525.4 806,525.2 808,525.0 811,524.6 814,524.4 816,524.4 818,524.7 821,525.1 824,525.5 826,525.7 828,525.6 831,525.3 834,524.8 836,524.3 838,524.1 841,524.4 844,524.9 846,525.5 848,525.9 851,526.0 854,525.6 856,524.9 858,524.3 861,524.0 864,524.1 866,524.6 868,525.3 871,525.8 874,526.0 876,525.7 878,525.2 881,524.6 884,524.2 886,524.2 888,524.4 891,524.9 894,525.4 896,525.6 898,525.6 901,525.3 904,525.0 906,524.8 908,524.7 911,524.8 914,525.0 916,525.2 918,525.3 921,525.2 924,525.0 926,524.7 928,524.5 931,524.4 934,524.5 936,524.8 938,525.2 941,525.6 944,525.8 946,525.8 948,525.5 951,525.1 954,524.7 956,524.4 958,524.4 961,524.5 964,524.7 966,525.0 968,525.1 971,525.1"/><polyline points="301,548.1 304,547.4 306,547.2 308,547.6 311,548.4 314,549.4 316,550.2 318,550.6 321,550.5 324,549.9 326,549.0 328,548.2 331,547.7 334,547.6 336,548.0 338,548.7 341,549.4 344,549.9 346,550.1 348,550.0 351,549.5 354,548.8 356,548.3 358,548.0 361,548.0 364,548.4 366,549.0 368,549.6 371,550.0 374,550.1 376,549.8 378,549.3 381,548.7 384,548.2 386,547.8 388,547.9 391,548.2 394,548.8 396,549.4 398,549.9 401,550.1 404,550.0 406,549.6 408,549.0 411,548.5 414,548.1 416,548.1 418,548.4 421,548.9 424,549.5 426,549.8 428,549.9 431,549.6 434,549.0 436,548.3 438,547.8 441,547.6 444,548.0 446,548.7 448,549.6 451,550.5 454,550.9 456,550.9 458,550.2 461,549.2 464,548.0 466,547.1 468,546.7 471,547.0 474,547.8 476,549.0 478,550.1 481,550.8 484,551.0 486,550.5 488,549.6 491,548.6 494,547.9 496,547.6 498,547.9 501,548.6 504,549.4 506,550.1 508,550.3 511,550.0 514,549.3 516,548.3 518,547.5 521,547.2 524,547.4 526,548.1 528,549.2 531,550.3 534,551.0 536,551.2 538,550.8 541,549.9 544,548.8 546,547.8 548,547.2 551,547.1 554,547.4 556,548.1 558,549.0 561,549.6 564,550.0 566,550.1 568,549.8 571,549.4 574,549.0 576,548.8 578,548.8 581,548.9 584,549.2 586,549.4 588,549.5 591,549.3 594,548.9 596,548.5 598,548.0 601,547.8 604,547.9 606,548.2 608,548.9 611,549.6 614,550.2 616,550.5 618,550.5 621,550.2 624,549.5 626,548.8 628,548.1 631,547.7 634,547.6 636,547.9 638,548.4 641,549.0 644,549.5 646,549.8 648,549.7 651,549.4 654,549.0 656,548.6 658,548.5 661,548.7 664,549.1 666,549.6 668,550.0 671,550.1 674,549.8 676,549.2 678,548.4 681,547.6 684,547.2 686,547.2 688,547.8 691,548.7 694,549.8 696,550.7 698,551.2 701,551.0 704,550.2 706,549.2 708,548.1 711,547.3 714,547.1 716,547.5 718,548.3 721,549.2 724,550.0 726,550.4 728,550.2 731,549.6 734,548.9 736,548.2 738,547.8 741,547.9 744,548.4 746,549.2 748,549.9 751,550.4 754,550.4 756,549.9 758,549.2 761,548.3 764,547.7 766,547.5 768,547.7 771,548.3 774,549.0 776,549.8 778,550.2 781,550.3 784,550.0 786,549.4 788,548.8 791,548.3 794,548.1 796,548.2 798,548.5 801,548.9 804,549.3 806,549.6 808,549.6 811,549.4 814,549.1 816,548.7 818,548.5 821,548.4 824,548.5 826,548.8 828,549.2 831,549.5 834,549.7 836,549.6 838,549.4 841,549.0 844,548.6 846,548.3 848,548.3 851,548.4 854,548.8 856,549.2 858,549.6 861,549.8 864,549.7 866,549.4 868,549.0 871,548.5 874,548.2 876,548.1 878,548.3 881,548.8 884,549.4 886,549.8 888,550.1 891,549.9 894,549.5 896,548.9 898,548.2 901,547.8 904,547.8 906,548.2 908,548.8 911,549.6 914,550.2 916,550.4 918,550.1 921,549.5 924,548.7 926,548.0 928,547.6 931,547.6 934,548.1 936,548.9 938,549.8 941,550.4 944,550.5 946,550.2 948,549.5 951,548.6 954,547.9 956,547.6 958,547.7 961,548.3 964,549.0 966,549.8 968,550.2 971,550.2"/><polyline points="301,573.1 304,572.3 306,571.4 308,570.8 311,570.7 314,571.0 316,571.7 318,572.5 321,573.1 324,573.3 326,573.0 328,572.4 331,571.6 334,571.0 336,570.8 338,570.9 341,571.4 344,572.0 346,572.6 348,573.0 351,573.1 354,572.8 356,572.4 358,571.8 361,571.4 364,571.1 366,571.1 368,571.4 371,571.8 374,572.2 376,572.5 378,572.6 381,572.5 384,572.3 386,572.0 388,571.8 391,571.7 394,571.8 396,572.0 398,572.3 401,572.4 404,572.3 406,572.0 408,571.5 411,571.1 414,570.9 416,571.1 418,571.7 421,572.5 424,573.3 426,573.8 428,573.8 431,573.2 434,572.1 436,570.9 438,569.9 441,569.5 444,569.9 446,570.9 448,572.3 451,573.6 454,574.4 456,574.5 458,573.8 461,572.6 464,571.3 466,570.3 468,570.0 471,570.3 474,571.0 476,572.0 478,572.7 481,573.1 484,573.0 486,572.6 488,572.1 491,571.7 494,571.6 496,571.8 498,572.1 501,572.4 504,572.5 506,572.4 508,571.9 511,571.4 514,571.0 516,570.8 518,571.0 521,571.5 524,572.3 526,573.0 528,573.4 531,573.6 534,573.3 536,572.6 538,571.8 541,571.0 544,570.4 546,570.3 548,570.6 551,571.3 554,572.2 556,573.0 558,573.5 561,573.6 564,573.2 566,572.6 568,571.8 571,571.1 574,570.8 576,570.9 578,571.4 581,572.0 584,572.5 586,572.7 588,572.6 591,572.1 594,571.6 596,571.2 598,571.2 601,571.7 604,572.4 606,573.1 608,573.5 611,573.4 614,572.7 616,571.6 618,570.6 621,569.9 624,569.8 626,570.5 628,571.8 631,573.1 634,574.2 636,574.5 638,574.1 641,573.0 644,571.7 646,570.5 648,569.8 651,569.8 654,570.5 656,571.6 658,572.7 661,573.4 664,573.7 666,573.4 668,572.7 671,571.9 674,571.3 676,571.0 678,571.1 681,571.5 684,572.0 686,572.4 688,572.5 691,572.4 694,572.2 696,571.8 698,571.5 701,571.5 704,571.6 706,571.9 708,572.4 711,572.7 714,572.8 716,572.7 718,572.3 721,571.7 724,571.2 726,570.9 728,570.9 731,571.3 734,572.0 736,572.7 738,573.2 741,573.4 744,573.1 746,572.4 748,571.5 751,570.8 754,570.4 756,570.6 758,571.3 761,572.3 764,573.2 766,573.7 768,573.7 771,573.0 774,571.9 776,570.8 778,570.1 781,570.1 784,570.8 786,571.9 788,573.1 791,573.9 794,574.0 796,573.4 798,572.3 801,571.1 804,570.2 806,570.0 808,570.5 811,571.5 814,572.6 816,573.5 818,573.8 821,573.5 824,572.7 826,571.7 828,570.8 831,570.5 834,570.6 836,571.3 838,572.1 841,572.8 844,573.3 846,573.2 848,572.7 851,572.1 854,571.4 856,571.0 858,570.9 861,571.3 864,571.8 866,572.4 868,572.8 871,572.9 874,572.8 876,572.3 878,571.8 881,571.3 884,571.1 886,571.2 888,571.6 891,572.2 894,572.7 896,573.0 898,572.9 901,572.5 904,571.9 906,571.2 908,570.8 911,570.8 914,571.3 916,572.1 918,572.9 921,573.5 924,573.7 926,573.2 928,572.2 931,571.1 934,570.2 936,569.8 938,570.2 941,571.3 944,572.6 946,573.8 948,574.4 951,574.2 954,573.3 956,571.9 958,570.6 961,569.8 964,569.7 966,570.4 968,571.6 971,572.9"/><polyline points="301,600.1 304,599.8 306,598.6 308,597.0 311,595.4 314,594.3 316,594.0 318,594.5 321,595.7 324,597.3 326,598.7 328,599.5 331,599.5 334,598.8 336,597.6 338,596.3 341,595.3 344,594.9 346,595.2 348,596.1 351,597.3 354,598.3 356,599.0 358,598.9 361,598.3 364,597.2 366,596.1 368,595.1 371,594.7 374,594.9 376,595.7 378,596.8 381,598.0 384,598.9 386,599.3 388,599.2 391,598.6 394,597.6 396,596.5 398,595.6 401,595.2 404,595.2 406,595.6 408,596.3 411,597.1 414,597.7 416,598.0 418,598.0 421,597.6 424,597.0 426,596.5 428,596.3 431,596.4 434,596.9 436,597.5 438,598.2 441,598.6 444,598.6 446,598.0 448,597.0 451,595.8 454,594.7 456,594.1 458,594.2 461,595.0 464,596.5 466,598.1 468,599.6 471,600.5 474,600.5 476,599.6 478,598.1 481,596.3 484,594.8 486,593.9 488,593.9 491,594.7 494,596.2 496,597.7 498,598.8 501,599.3 504,599.0 506,598.0 508,596.8 511,595.6 514,595.0 516,595.2 518,596.0 521,597.3 524,598.6 526,599.4 528,599.5 531,598.9 534,597.6 536,596.1 538,594.7 541,594.0 544,594.0 546,594.8 548,596.2 551,597.8 554,599.1 556,599.8 558,599.8 561,599.1 564,598.0 566,596.7 568,595.6 571,595.0 574,595.0 576,595.5 578,596.4 581,597.3 584,597.9 586,598.2 588,598.1 591,597.6 594,596.9 596,596.3 598,596.0 601,596.0 604,596.4 606,597.0 608,597.7 611,598.3 614,598.5 616,598.2 618,597.6 621,596.8 624,595.9 626,595.3 628,595.1 631,595.5 634,596.2 636,597.3 638,598.3 641,599.0 644,599.1 646,598.6 648,597.7 651,596.5 654,595.4 656,594.8 658,594.8 661,595.5 664,596.7 666,598.0 668,599.0 671,599.5 674,599.2 676,598.2 678,596.8 681,595.4 684,594.4 686,594.2 688,594.9 691,596.2 694,597.7 696,599.1 698,599.9 701,599.8 704,598.9 706,597.4 708,595.8 711,594.6 714,594.1 716,594.5 718,595.6 721,597.1 724,598.6 726,599.5 728,599.7 731,599.1 734,597.9 736,596.5 738,595.2 741,594.6 744,594.6 746,595.4 748,596.6 751,597.8 754,598.7 756,599.1 758,598.8 761,598.0 764,597.0 766,596.0 768,595.4 771,595.3 774,595.7 776,596.5 778,597.4 781,598.2 784,598.6 786,598.5 788,597.9 791,597.1 794,596.2 796,595.5 798,595.2 801,595.5 804,596.1 806,597.0 808,597.9 811,598.6 814,598.9 816,598.7 818,598.0 821,597.1 824,596.2 826,595.5 828,595.2 831,595.5 834,596.1 836,597.0 838,597.9 841,598.4 844,598.4 846,598.0 848,597.2 851,596.3 854,595.6 856,595.4 858,595.8 861,596.6 864,597.8 866,598.9 868,599.5 871,599.4 874,598.5 876,597.1 878,595.5 881,594.1 884,593.5 886,593.8 888,595.0 891,596.7 894,598.6 896,600.1 898,600.8 901,600.5 904,599.3 906,597.6 908,595.8 911,594.5 914,593.9 916,594.3 918,595.3 921,596.7 924,598.0 926,598.8 928,598.9 931,598.3 934,597.4 936,596.3 938,595.6 941,595.5 944,595.9 946,596.8 948,597.9 951,598.8 954,599.2 956,599.0 958,598.1 961,596.9 964,595.6 966,594.7 968,594.3 971,594.5"/></g>
<polyline points="300.3,679.2 306.9,676.3 312.9,674.8 317.4,678.3 324.9,671.8 329.3,673.3 333.8,670.3 338.3,674.8 344.3,669.4 353.3,662.8 363.7,666.4 372.7,670.3 383.2,670.3 390.6,674.8 398.1,664.3 404.1,656.8 408.6,659.8 413.1,674.8 417.6,676.3 422.0,670.3 428.0,674.8 434.0,679.2 441.5,680.1 449.0,669.4 456.4,679.2 462.4,667.3 466.9,670.3 471.4,674.2 478.9,670.3 489.3,661.3 493.8,668.8 502.8,662.2 510.3,670.3 516.2,667.3 523.7,671.8 531.2,677.2 540.2,671.2 550.6,671.8 559.6,683.7 567.1,680.7 574.6,680.1 582.0,682.2 591.0,677.8 600.0,677.2 608.9,670.3 619.4,664.3 626.9,670.3 635.9,652.3 643.3,664.3 652.3,659.8 659.8,662.8 674.7,663.4 685.2,671.8 704.6,672.4 710.6,674.8 718.1,678.3 725.6,677.2 734.5,668.8 742.0,677.8 749.5,670.3 755.5,676.3 764.4,668.8 770.4,671.2 776.4,655.3 783.9,664.3 788.4,661.3 795.8,671.8 803.3,659.8 810.8,674.8 819.8,656.8 824.3,659.8 831.7,682.2 839.2,680.7 846.7,681.3 854.2,674.8 861.6,676.3 869.1,669.4 875.1,671.8 881.1,665.8 887.1,668.8 896.0,661.3 902.0,663.4 911.0,656.8 918.5,664.3 927.4,656.2 937.9,658.3 948.4,664.3 958.8,674.8 966.3,680.1 972.3,687.3" fill="none" stroke="#555962" stroke-width="3.8" stroke-linejoin="round" filter="url(#bl1_1)"/>
<g filter="url(#bl0_9)"><rect x="297.3" y="10" width="4.2" height="711.5" fill="#4a4d55"/><rect x="297.3" y="717.4" width="676.5" height="4.1" fill="#4a4d55"/><rect x="432.5" y="710.5" width="3.2" height="8" fill="#4a4d55"/><rect x="566.5" y="710.5" width="3.2" height="8" fill="#4a4d55"/><rect x="700.5" y="710.5" width="3.2" height="8" fill="#4a4d55"/><rect x="835.5" y="710.5" width="3.2" height="8" fill="#4a4d55"/><rect x="970.5" y="710.5" width="3.2" height="8" fill="#4a4d55"/></g>
<rect x="432.5" y="623" width="274.5" height="96.6" fill="none" stroke="#c8364c" stroke-width="5" filter="url(#bl0_7)"/>
<rect x="621" y="315.5" width="4" height="4" fill="#222"/>
<rect x="621" y="361.5" width="4" height="4" fill="#222"/>
<rect x="621" y="407.5" width="4" height="4" fill="#222"/>
<text x="172.5" y="267.1" font-size="53" fill="#1a1a1a">电</text><text x="172.5" y="322.6" font-size="53" fill="#1a1a1a">极</text><text x="172.5" y="378.1" font-size="53" fill="#1a1a1a">通</text><text x="172.5" y="433.6" font-size="53" fill="#1a1a1a">道</text>
<text x="184.0" y="703.0" font-size="55" text-anchor="middle" transform="translate(184.0,0) scale(0.99,1) translate(-184.0,0)" fill="#1a1a1a">GFP</text>
<rect x="1618.0" y="16.0" width="138.0" height="137.0" fill="#b0d6a0" filter="url(#shb)"/>
<text x="1686.0" y="101.0" font-size="55" text-anchor="middle" transform="translate(1686.0,0) scale(0.955,1) translate(-1686.0,0)" fill="#1a1a1a">A</text>
<rect x="2140.0" y="16.0" width="138.0" height="137.0" fill="#a8b8dc" filter="url(#shb)"/>
<text x="2214.5" y="101.0" font-size="55" text-anchor="middle" transform="translate(2214.5,0) scale(0.955,1) translate(-2214.5,0)" fill="#1a1a1a">B</text>
<rect x="1618.0" y="514.0" width="138.0" height="139.0" fill="#c1c1c1" filter="url(#shb)"/>
<text x="1686.0" y="600.0" font-size="55" text-anchor="middle" transform="translate(1686.0,0) scale(0.955,1) translate(-1686.0,0)" fill="#1a1a1a">C</text>
<rect x="2143.5" y="516.0" width="137.0" height="136.0" fill="#edb49c" filter="url(#shb)"/>
<text x="2215.0" y="600.5" font-size="55" text-anchor="middle" transform="translate(2215.0,0) scale(0.955,1) translate(-2215.0,0)" fill="#1a1a1a">D</text>
<g filter="url(#sha)"><path d="M0,0 L38,-13.75 L38,-6.6 L209.0,-6.6 L209.0,-13.75 L247.0,0 L209.0,13.75 L209.0,6.6 L38,6.6 L38,13.75 Z" transform="translate(1823.0,91.5) rotate(0.00)" fill="#0c0d10"/></g>
<g filter="url(#sha)"><path d="M0,0 L38,-13.75 L38,-6.6 L209.0,-6.6 L209.0,-13.75 L247.0,0 L209.0,13.75 L209.0,6.6 L38,6.6 L38,13.75 Z" transform="translate(1823.0,588.5) rotate(0.00)" fill="#0c0d10"/></g>
<g filter="url(#sha)"><path d="M0,0 L38,-13.75 L38,-6.6 L230.55632556318608,-6.6 L230.55632556318608,-13.75 L268.5563255631861,0 L230.55632556318608,13.75 L230.55632556318608,6.6 L38,6.6 L38,13.75 Z" transform="translate(1686.5,199.0) rotate(91.17)" fill="#0c0d10"/></g>
<g filter="url(#sha)"><path d="M0,0 L38,-13.75 L38,-6.6 L230.01166019410425,-6.6 L230.01166019410425,-13.75 L268.01166019410425,0 L230.01166019410425,13.75 L230.01166019410425,6.6 L38,6.6 L38,13.75 Z" transform="translate(2209.0,199.0) rotate(90.53)" fill="#0c0d10"/></g>
<g filter="url(#sha)"><path d="M0,0 L38,-13.75 L38,-6.6 L281.13609949361734,-6.6 L281.13609949361734,-13.75 L319.13609949361734,0 L281.13609949361734,13.75 L281.13609949361734,6.6 L38,6.6 L38,13.75 Z" transform="translate(1832.4,205.3) rotate(46.82)" fill="#0c0d10"/></g>
<g filter="url(#sha)"><path d="M0,0 L38,-13.75 L38,-6.6 L288.41963788963415,-6.6 L288.41963788963415,-13.75 L326.41963788963415,0 L288.41963788963415,13.75 L288.41963788963415,6.6 L38,6.6 L38,13.75 Z" transform="translate(2060.7,207.7) rotate(135.62)" fill="#0c0d10"/></g>
<text x="2366.0" y="303.0" font-size="55" letter-spacing="-0.2" fill="#1a1a1a">不同微状态</text>
<text x="2394.0" y="369.0" font-size="55" letter-spacing="-0.2" fill="#1a1a1a">间的转换</text>
<g transform="translate(586.2,754.8) rotate(90.00)" filter="url(#bl0_5)"><rect x="0" y="-1.6" width="89.2" height="3.2" fill="#111"/><path d="M109.0,0 L87.2,-12.0 L87.2,12.0 Z" fill="#111"/></g>
<g transform="translate(582.0,1311.7) rotate(90.00)" filter="url(#bl0_5)"><rect x="0" y="-1.3" width="88.3" height="2.6" fill="#111"/><path d="M108.3,0 L86.3,-11.5 L86.3,11.5 Z" fill="#111"/></g>
<g transform="translate(1097.7,1570.7) rotate(0.00)" filter="url(#bl0_5)"><rect x="0" y="-1.3" width="138.3" height="2.6" fill="#111"/><path d="M158.3,0 L136.3,-11.5 L136.3,11.5 Z" fill="#111"/></g>
<g transform="translate(1970.0,1364.3) rotate(-90.00)" filter="url(#bl0_5)"><rect x="0" y="-1.3" width="92.1" height="2.6" fill="#111"/><path d="M112.1,0 L90.1,-11.5 L90.1,11.5 Z" fill="#111"/></g>
<rect x="158.6" y="914.8" width="918.4" height="157.0" fill="#fff" filter="url(#shp)"/>
<g fill="none" stroke="#d0392b" stroke-width="6.2" stroke-linecap="round" stroke-linejoin="round" filter="url(#bl0_7)"><path d="M192.2,1002.4 C198.8,1002.4 202.2,959.8 214.4,959.8 C232.7,959.8 242.9,1033.6 247.6,1033.6 C252.2,1033.6 274.1,928.2 280.8,928.2 C286.2,928.2 304.8,1059.4 308.1,1059.4 C311.5,1059.4 330.9,961.8 336.6,961.8 C341.4,961.8 357.9,1047.7 360.8,1047.7 C364.3,1047.7 383.6,920.4 390.1,920.4 C398.4,920.4 423.4,1045.7 427.9,1045.7 C430.8,1045.7 446.7,938.0 451.4,938.0 C456.7,938.0 474.7,1043.8 477.9,1043.8 C481.1,1043.8 499.7,963.3 504.5,963.3 C508.5,963.3 524.0,1049.2 526.7,1049.2 C530.6,1049.2 542.9,950.1 559.1,950.1 C585.8,950.1 600.8,1029.7 612.6,1029.7 C619.7,1029.7 637.9,957.5 645.0,957.5 C651.2,957.5 667.5,1029.7 673.1,1029.7 C680.1,1029.7 700.5,961.4 708.2,961.4 C713.4,961.4 727.9,1029.7 731.6,1029.7 C737.3,1029.7 757.6,924.3 766.8,924.3 C783.5,924.3 799.0,1053.1 831.2,1053.1 C848.8,1053.1 855.8,1004.7 866.3,1004.7 C870.4,1004.7 875.9,1013.3 880.0,1013.3 C889.9,1013.3 903.2,975.1 913.2,975.1 C923.1,975.1 941.0,1047.7 946.3,1047.7 C954.5,1047.7 974.3,1003.9 997.1,1003.9 C1010.3,1003.9 1014.7,1005.5 1026.4,1005.5 C1032.6,1005.5 1037.3,1012.5 1042.0,1012.5"/><path d="M192.2,1006.2 C198.8,1006.2 202.2,963.6 214.4,963.6 C232.7,963.6 242.9,1037.4 247.6,1037.4 C252.2,1037.4 274.1,932.0 280.8,932.0 C286.2,932.0 304.8,1063.2 308.1,1063.2 C311.5,1063.2 330.9,965.6 336.6,965.6 C341.4,965.6 357.9,1051.5 360.8,1051.5 C364.3,1051.5 383.6,924.2 390.1,924.2 C398.4,924.2 423.4,1049.5 427.9,1049.5 C430.8,1049.5 446.7,941.8 451.4,941.8 C456.7,941.8 474.7,1047.6 477.9,1047.6 C481.1,1047.6 499.7,967.1 504.5,967.1 C508.5,967.1 524.0,1053.0 526.7,1053.0 C530.6,1053.0 542.9,953.9 559.1,953.9 C585.8,953.9 600.8,1033.5 612.6,1033.5 C619.7,1033.5 637.9,961.3 645.0,961.3 C651.2,961.3 667.5,1033.5 673.1,1033.5 C680.1,1033.5 700.5,965.2 708.2,965.2 C713.4,965.2 727.9,1033.5 731.6,1033.5 C737.3,1033.5 757.6,928.1 766.8,928.1 C783.5,928.1 799.0,1056.9 831.2,1056.9 C848.8,1056.9 855.8,1008.5 866.3,1008.5 C870.4,1008.5 875.9,1017.1 880.0,1017.1 C889.9,1017.1 903.2,978.9 913.2,978.9 C923.1,978.9 941.0,1051.5 946.3,1051.5 C954.5,1051.5 974.3,1007.7 997.1,1007.7 C1010.3,1007.7 1014.7,1009.3 1026.4,1009.3 C1032.6,1009.3 1037.3,1016.3 1042.0,1016.3"/><path d="M192.2,1010.0 C198.8,1010.0 202.2,967.4 214.4,967.4 C232.7,967.4 242.9,1041.2 247.6,1041.2 C252.2,1041.2 274.1,935.8 280.8,935.8 C286.2,935.8 304.8,1067.0 308.1,1067.0 C311.5,1067.0 330.9,969.4 336.6,969.4 C341.4,969.4 357.9,1055.3 360.8,1055.3 C364.3,1055.3 383.6,928.0 390.1,928.0 C398.4,928.0 423.4,1053.3 427.9,1053.3 C430.8,1053.3 446.7,945.6 451.4,945.6 C456.7,945.6 474.7,1051.4 477.9,1051.4 C481.1,1051.4 499.7,970.9 504.5,970.9 C508.5,970.9 524.0,1056.8 526.7,1056.8 C530.6,1056.8 542.9,957.7 559.1,957.7 C585.8,957.7 600.8,1037.3 612.6,1037.3 C619.7,1037.3 637.9,965.1 645.0,965.1 C651.2,965.1 667.5,1037.3 673.1,1037.3 C680.1,1037.3 700.5,969.0 708.2,969.0 C713.4,969.0 727.9,1037.3 731.6,1037.3 C737.3,1037.3 757.6,931.9 766.8,931.9 C783.5,931.9 799.0,1060.7 831.2,1060.7 C848.8,1060.7 855.8,1012.3 866.3,1012.3 C870.4,1012.3 875.9,1020.9 880.0,1020.9 C889.9,1020.9 903.2,982.7 913.2,982.7 C923.1,982.7 941.0,1055.3 946.3,1055.3 C954.5,1055.3 974.3,1011.5 997.1,1011.5 C1010.3,1011.5 1014.7,1013.1 1026.4,1013.1 C1032.6,1013.1 1037.3,1020.1 1042.0,1020.1"/></g>
<polyline points="977.6,1020.2 997.9,1010.1 1026.4,1011.3 1036.9,1015.5" fill="none" stroke="#d0392b" stroke-width="10.5" stroke-linecap="round" stroke-linejoin="round" filter="url(#bl0_7)"/>
<g filter="url(#bl0_7)"><rect x="278.8" y="1043" width="4" height="29" fill="#818185"/><path d="M280.8,1033.5 l-5,11.5 h10 Z" fill="#0e0e10"/></g>
<g filter="url(#bl0_7)"><rect x="334.2" y="1043" width="4" height="29" fill="#818185"/><path d="M336.2,1033.5 l-5,11.5 h10 Z" fill="#0e0e10"/></g>
<g filter="url(#bl0_7)"><rect x="393.1" y="1043" width="4" height="29" fill="#818185"/><path d="M395.1,1033.5 l-5,11.5 h10 Z" fill="#0e0e10"/></g>
<g filter="url(#bl0_7)"><rect x="453.3" y="1043" width="4" height="29" fill="#818185"/><path d="M455.3,1033.5 l-5,11.5 h10 Z" fill="#0e0e10"/></g>
<g filter="url(#bl0_7)"><rect x="502.5" y="1043" width="4" height="29" fill="#818185"/><path d="M504.5,1033.5 l-5,11.5 h10 Z" fill="#0e0e10"/></g>
<g filter="url(#bl0_7)"><rect x="563.0" y="1043" width="4" height="29" fill="#818185"/><path d="M565.0,1033.5 l-5,11.5 h10 Z" fill="#0e0e10"/></g>
<g filter="url(#bl0_7)"><rect x="636.0" y="1043" width="4" height="29" fill="#818185"/><path d="M638.0,1033.5 l-5,11.5 h10 Z" fill="#0e0e10"/></g>
<g filter="url(#bl0_7)"><rect x="706.2" y="1043" width="4" height="29" fill="#818185"/><path d="M708.2,1033.5 l-5,11.5 h10 Z" fill="#0e0e10"/></g>
<g filter="url(#bl0_7)"><rect x="770.6" y="1043" width="4" height="29" fill="#818185"/><path d="M772.6,1033.5 l-5,11.5 h10 Z" fill="#0e0e10"/></g>
<g filter="url(#bl0_7)"><rect x="867.4" y="1043" width="4" height="29" fill="#818185"/><path d="M869.4,1033.5 l-5,11.5 h10 Z" fill="#0e0e10"/></g>
<g filter="url(#bl0_7)"><rect x="913.1" y="1043" width="4" height="29" fill="#818185"/><path d="M915.1,1033.5 l-5,11.5 h10 Z" fill="#0e0e10"/></g>
<text x="86.0" y="1035.0" font-size="55" text-anchor="middle" transform="translate(86.0,0) scale(0.99,1) translate(-86.0,0)" fill="#1a1a1a">GFP</text>
<rect x="41.5" y="1111.0" width="858.0" height="109.0" fill="#fff" filter="url(#shp)"/>
<rect x="899.5" y="1111.0" width="296.0" height="99.0" fill="#fff" filter="url(#shp)"/>
<g filter="url(#bl2_8)"><g clip-path="url(#c1)"><rect x="49.2" y="1115.3" width="92.0" height="101.3" fill="url(#m1)"/><circle cx="117.0" cy="1142.5" r="20.2" fill="url(#hot)"/></g></g>
<g filter="url(#bl2_8)"><g clip-path="url(#c2)"><rect x="138.1" y="1114.2" width="96.0" height="104.5" fill="url(#m2)"/><polygon points="260.0,940.5 110.0,1446.8 363.1,1521.8 513.1,1015.5" fill="url(#m2v)"/><circle cx="197.6" cy="1152.4" r="19.4" fill="url(#hot)"/></g></g>
<g filter="url(#bl2_8)"><g clip-path="url(#c3)"><rect x="230.1" y="1114.4" width="98.0" height="104.5" fill="url(#m3)"/><circle cx="321.4" cy="1148.7" r="19.8" fill="url(#hot)"/></g></g>
<g filter="url(#bl2_8)"><g clip-path="url(#c4)"><rect x="323.6" y="1111.7" width="97.0" height="104.5" fill="url(#m4)"/><circle cx="397.9" cy="1143.5" r="19.6" fill="url(#hot)"/></g></g>
<g filter="url(#bl2_8)"><g clip-path="url(#c5)"><rect x="416.6" y="1111.7" width="97.0" height="104.5" fill="url(#m5)"/><circle cx="478.5" cy="1134.6" r="21.4" fill="url(#hot)"/></g></g>
<g filter="url(#bl2_8)"><g clip-path="url(#c6)"><rect x="511.6" y="1112.6" width="97.0" height="105.6" fill="url(#m6)"/><circle cx="561.0" cy="1128.0" r="23.1" fill="url(#hot)"/></g></g>
<g filter="url(#bl2_8)"><g clip-path="url(#c7)"><rect x="606.3" y="1111.2" width="101.5" height="109.6" fill="url(#m7)"/></g></g>
<g filter="url(#bl2_8)"><g clip-path="url(#c8)"><rect x="707.3" y="1112.8" width="95.0" height="103.5" fill="url(#m8)"/></g></g>
<g filter="url(#bl2_8)"><g clip-path="url(#c9)"><rect x="801.8" y="1111.2" width="98.0" height="104.5" fill="url(#m9)"/><circle cx="847.2" cy="1131.1" r="21.6" fill="url(#hot)"/><circle cx="853.5" cy="1201.3" r="23.4" fill="url(#cool)"/></g></g>
<g filter="url(#bl2_8)"><g clip-path="url(#c10)"><rect x="902.9" y="1106.5" width="96.5" height="106.7" fill="url(#m10)"/><circle cx="953.8" cy="1137.7" r="24.8" fill="url(#hot)"/></g></g>
<g filter="url(#bl2_8)"><g clip-path="url(#c11)"><rect x="996.1" y="1106.5" width="100.0" height="106.7" fill="url(#m11)"/><circle cx="1032.3" cy="1132.2" r="25.8" fill="url(#hot)"/></g></g>
<g filter="url(#bl2_8)"><g clip-path="url(#c12)"><rect x="1094.8" y="1103.9" width="100.0" height="108.3" fill="url(#m12)"/><circle cx="1138.3" cy="1135.0" r="25.8" fill="url(#hot)"/></g></g>
<text x="679.0" y="1401.5" font-size="54" text-anchor="middle" font-style="italic" transform="translate(679.0,0) scale(0.955,1) translate(-679.0,0)" fill="#1a1a1a">K</text>
<text x="698.5" y="1401.5" font-size="55" letter-spacing="-0.4" fill="#1a1a1a">均值聚类算法</text>
<rect x="149.5" y="1463.6" width="797.5" height="172.0" fill="#fff" filter="url(#shp)"/>
<g filter="url(#bl3_0)"><g clip-path="url(#c13)"><rect x="150.0" y="1461.8" width="162.0" height="167.8" fill="url(#m13)"/><circle cx="263.3" cy="1514.9" r="46.2" fill="url(#hot)"/></g></g>
<g filter="url(#bl3_0)"><g clip-path="url(#c14)"><rect x="348.3" y="1455.7" width="167.0" height="170.6" fill="url(#m14)"/><circle cx="384.1" cy="1512.4" r="31.8" fill="url(#hot)"/></g></g>
<g filter="url(#bl3_0)"><g clip-path="url(#c15)"><rect x="546.9" y="1461.9" width="173.0" height="173.2" fill="url(#m15)"/><circle cx="635.0" cy="1446.2" r="56.1" fill="url(#hot)"/></g></g>
<g filter="url(#bl3_0)"><g clip-path="url(#c16)"><rect x="768.5" y="1461.6" width="165.7" height="174.2" fill="url(#m16)"/><circle cx="846.6" cy="1507.7" r="31.5" fill="url(#hot)"/></g></g>
<rect x="193.4" y="1636.8" width="87.0" height="84.2" fill="#b0d6a0" filter="url(#shb)"/>
<text x="231.0" y="1698.0" font-size="55" text-anchor="middle" transform="translate(231.0,0) scale(0.955,1) translate(-231.0,0)" fill="#1a1a1a">A</text>
<rect x="392.4" y="1636.8" width="87.0" height="84.2" fill="#8099cf" filter="url(#shb)"/>
<text x="431.0" y="1698.0" font-size="55" text-anchor="middle" transform="translate(431.0,0) scale(0.955,1) translate(-431.0,0)" fill="#1a1a1a">B</text>
<rect x="592.6" y="1644.0" width="87.0" height="66.8" fill="#c1c1c1" filter="url(#shb)"/>
<text x="635.5" y="1698.0" font-size="55" text-anchor="middle" transform="translate(635.5,0) scale(0.955,1) translate(-635.5,0)" fill="#1a1a1a">C</text>
<rect x="801.7" y="1644.0" width="88.0" height="66.8" fill="#edb49c" filter="url(#shb)"/>
<text x="839.5" y="1698.0" font-size="55" text-anchor="middle" transform="translate(839.5,0) scale(0.955,1) translate(-839.5,0)" fill="#1a1a1a">D</text>
<text x="1034.5" y="1652.0" font-size="55" letter-spacing="-0.4" fill="#1a1a1a">拟合回原始</text>
<text x="1116.0" y="1719.5" font-size="55" letter-spacing="-0.4" fill="#1a1a1a">数据</text>
<rect x="1316" y="1044.5" width="1343" height="10" fill="url(#barg)" filter="url(#bl0_7)"/>
<rect x="2651.5" y="1046" width="8" height="103" fill="url(#barv)" filter="url(#bl0_7)"/>
<rect x="1314" y="1057.2" width="119.7" height="86.3" fill="#a8b8dd"/>
<text x="1372.7" y="1118.8" font-size="55" text-anchor="middle" transform="translate(1372.7,0) scale(0.955,1) translate(-1372.7,0)" fill="#1a1a1a">B</text>
<rect x="1436.6" y="1057.2" width="190.4" height="86.3" fill="#eeb49d"/>
<text x="1530.2" y="1118.8" font-size="55" text-anchor="middle" transform="translate(1530.2,0) scale(0.955,1) translate(-1530.2,0)" fill="#1a1a1a">D</text>
<rect x="1629.4" y="1057.2" width="216.6" height="86.3" fill="#c2c2c2"/>
<text x="1734.6" y="1118.8" font-size="55" text-anchor="middle" transform="translate(1734.6,0) scale(0.955,1) translate(-1734.6,0)" fill="#1a1a1a">C</text>
<rect x="1850" y="1057.2" width="131.7" height="86.3" fill="#b0d7a1"/>
<text x="1915.7" y="1118.8" font-size="55" text-anchor="middle" transform="translate(1915.7,0) scale(0.955,1) translate(-1915.7,0)" fill="#1a1a1a">A</text>
<rect x="1983.7" y="1057.2" width="69.6" height="86.3" fill="#eeb49d"/>
<text x="2019.2" y="1118.8" font-size="55" text-anchor="middle" transform="translate(2019.2,0) scale(0.955,1) translate(-2019.2,0)" fill="#1a1a1a">D</text>
<rect x="2056.5" y="1057.2" width="193.3" height="86.3" fill="#a8b8dd"/>
<text x="2142.8" y="1118.8" font-size="55" text-anchor="middle" transform="translate(2142.8,0) scale(0.955,1) translate(-2142.8,0)" fill="#1a1a1a">B</text>
<rect x="2384.7" y="1057.2" width="159.3" height="86.3" fill="#b0d7a1"/>
<text x="2453.8" y="1118.8" font-size="55" text-anchor="middle" transform="translate(2453.8,0) scale(0.955,1) translate(-2453.8,0)" fill="#1a1a1a">A</text>
<rect x="2546.9" y="1057.2" width="104.1" height="86.3" fill="#c2c2c2"/>
<text x="2607.3" y="1118.8" font-size="55" text-anchor="middle" transform="translate(2607.3,0) scale(0.955,1) translate(-2607.3,0)" fill="#1a1a1a">C</text>
<circle cx="2271.0" cy="1105.8" r="3.1" fill="#1a1a1a"/>
<circle cx="2283.5" cy="1105.8" r="3.1" fill="#1a1a1a"/>
<circle cx="2296.0" cy="1105.8" r="3.1" fill="#1a1a1a"/>
<circle cx="2308.5" cy="1105.8" r="3.1" fill="#1a1a1a"/>
<circle cx="2321.0" cy="1105.8" r="3.1" fill="#1a1a1a"/>
<circle cx="2333.5" cy="1105.8" r="3.1" fill="#1a1a1a"/>
<text x="1340.8" y="876.0" font-size="55" letter-spacing="0.2" fill="#1a1a1a">微状态持续时间</text>
<path d="M1444.2,955 C1446,938 1455,923 1470,921.5 L1511,921.5 C1524,921 1533,910 1538.3,894 C1543.5,910 1552,921 1565,921.5 L1607,921.5 C1622,923 1631,938 1632.8,955" fill="none" stroke="#4c5058" stroke-width="2.6" stroke-linecap="round" filter="url(#bl0_5)"/>
<path d="M1444,965 V1032 M1632.8,965 V1032" fill="none" stroke="#24262a" stroke-width="2.8" stroke-dasharray="11 3 4 3" filter="url(#bl0_5)"/>
<path d="M1345,892.6 H1737" fill="none" stroke="#e3ebf5" stroke-width="3" stroke-dasharray="14 9 6 12 22 8"/>
<text x="2004.0" y="1330.0" font-size="55" letter-spacing="0.4" fill="#1a1a1a">微状态参数</text>
<rect x="1406.5" y="1479" width="5" height="71.7" fill="#33373e" filter="url(#bl0_7)"/>
<rect x="1860.6" y="1479" width="5" height="71.7" fill="#33373e" filter="url(#bl0_7)"/>
<rect x="2138.4" y="1481" width="5" height="69.7" fill="#33373e" filter="url(#bl0_7)"/>
<rect x="2435.8" y="1481" width="5" height="69.7" fill="#33373e" filter="url(#bl0_7)"/>
<rect x="2727.3" y="1481" width="5" height="72.6" fill="#33373e" filter="url(#bl0_7)"/>
<g transform="translate(1478.8,1519.0) rotate(180.00)" filter="url(#bl0_5)"><rect x="0" y="-1.6" width="49.3" height="3.2" fill="#15161a"/><path d="M66.3,0 L47.3,-8.5 L47.3,8.5 Z" fill="#15161a"/></g>
<g transform="translate(1789.9,1515.8) rotate(0.00)" filter="url(#bl0_5)"><rect x="0" y="-1.6" width="53.1" height="3.2" fill="#15161a"/><path d="M70.1,0 L51.1,-8.5 L51.1,8.5 Z" fill="#15161a"/></g>
<g transform="translate(1928.8,1515.8) rotate(180.00)" filter="url(#bl0_5)"><rect x="0" y="-1.6" width="45.8" height="3.2" fill="#15161a"/><path d="M62.8,0 L43.8,-8.5 L43.8,8.5 Z" fill="#15161a"/></g>
<g transform="translate(2074.0,1515.8) rotate(0.00)" filter="url(#bl0_5)"><rect x="0" y="-1.6" width="47.0" height="3.2" fill="#15161a"/><path d="M64.0,0 L45.0,-8.5 L45.0,8.5 Z" fill="#15161a"/></g>
<g transform="translate(2210.0,1515.8) rotate(180.00)" filter="url(#bl0_5)"><rect x="0" y="-1.6" width="49.0" height="3.2" fill="#15161a"/><path d="M66.0,0 L47.0,-8.5 L47.0,8.5 Z" fill="#15161a"/></g>
<g transform="translate(2370.0,1515.8) rotate(0.00)" filter="url(#bl0_5)"><rect x="0" y="-1.6" width="48.5" height="3.2" fill="#15161a"/><path d="M65.5,0 L46.5,-8.5 L46.5,8.5 Z" fill="#15161a"/></g>
<g transform="translate(2509.0,1515.8) rotate(180.00)" filter="url(#bl0_5)"><rect x="0" y="-1.6" width="51.0" height="3.2" fill="#15161a"/><path d="M68.0,0 L49.0,-8.5 L49.0,8.5 Z" fill="#15161a"/></g>
<g transform="translate(2663.0,1510.0) rotate(0.00)" filter="url(#bl0_5)"><rect x="0" y="-1.6" width="47.0" height="3.2" fill="#15161a"/><path d="M64.0,0 L45.0,-8.5 L45.0,8.5 Z" fill="#15161a"/></g>
<text x="1632.3" y="1528.9" font-size="55" text-anchor="middle" transform="translate(1632.3,0) scale(0.955,1) translate(-1632.3,0)" fill="#1a1a1a">A</text>
<text x="2002.0" y="1528.9" font-size="55" text-anchor="middle" transform="translate(2002.0,0) scale(0.955,1) translate(-2002.0,0)" fill="#1a1a1a">C</text>
<text x="2292.0" y="1528.9" font-size="55" text-anchor="middle" transform="translate(2292.0,0) scale(0.955,1) translate(-2292.0,0)" fill="#1a1a1a">D</text>
<text x="2589.4" y="1528.9" font-size="55" text-anchor="middle" transform="translate(2589.4,0) scale(0.955,1) translate(-2589.4,0)" fill="#1a1a1a">B</text>
<g filter="url(#bl2_8)"><g clip-path="url(#c17)"><rect x="1383.1" y="1557.3" width="96.0" height="107.7" fill="url(#m17)"/><circle cx="1454.0" cy="1586.6" r="21.1" fill="url(#hot)"/></g></g>
<g filter="url(#bl2_8)"><g clip-path="url(#c18)"><rect x="1473.9" y="1555.9" width="101.0" height="112.0" fill="url(#m18)"/><polygon points="1602.4,1373.1 1443.9,1908.1 1711.4,1987.4 1869.9,1452.3" fill="url(#m18v)"/><circle cx="1536.5" cy="1597.0" r="20.5" fill="url(#hot)"/></g></g>
<g filter="url(#bl2_8)"><g clip-path="url(#c19)"><rect x="1569.9" y="1555.5" width="101.0" height="111.0" fill="url(#m19)"/><circle cx="1664.1" cy="1592.4" r="20.5" fill="url(#hot)"/></g></g>
<g filter="url(#bl2_8)"><g clip-path="url(#c20)"><rect x="1664.3" y="1552.8" width="99.5" height="111.0" fill="url(#m20)"/><circle cx="1740.6" cy="1587.3" r="20.1" fill="url(#hot)"/></g></g>
<g filter="url(#bl2_8)"><g clip-path="url(#c21)"><rect x="1758.8" y="1552.8" width="101.0" height="111.0" fill="url(#m21)"/><circle cx="1823.2" cy="1577.6" r="22.3" fill="url(#hot)"/></g></g>
<g filter="url(#bl2_8)"><g clip-path="url(#c22)"><rect x="1856.3" y="1555.7" width="98.0" height="111.0" fill="url(#m22)"/><circle cx="1906.2" cy="1573.4" r="23.4" fill="url(#hot)"/></g></g>
<g filter="url(#bl2_8)"><g clip-path="url(#c23)"><rect x="1952.0" y="1553.0" width="99.5" height="116.3" fill="url(#m23)"/></g></g>
<g filter="url(#bl2_8)"><g clip-path="url(#c24)"><rect x="2052.4" y="1551.2" width="91.0" height="114.2" fill="url(#m24)"/><circle cx="2094.5" cy="1578.4" r="19.9" fill="url(#hot)"/><circle cx="2100.4" cy="1643.2" r="21.6" fill="url(#cool)"/></g></g>
<g filter="url(#bl2_8)"><g clip-path="url(#c25)"><rect x="2142.8" y="1547.1" width="95.0" height="116.3" fill="url(#m25)"/><circle cx="2192.9" cy="1583.5" r="24.4" fill="url(#hot)"/></g></g>
<g filter="url(#bl2_8)"><g clip-path="url(#c26)"><rect x="2235.5" y="1551.2" width="99.5" height="114.2" fill="url(#m26)"/><circle cx="2297.2" cy="1585.4" r="25.6" fill="url(#hot)"/></g></g>
<g filter="url(#bl2_8)"><g clip-path="url(#c27)"><rect x="2334.3" y="1551.2" width="99.5" height="114.2" fill="url(#m27)"/><circle cx="2385.0" cy="1580.8" r="25.6" fill="url(#hot)"/></g></g>
<g filter="url(#bl2_8)"><g clip-path="url(#c28)"><rect x="2431.9" y="1551.2" width="101.0" height="114.2" fill="url(#m28)"/><circle cx="2468.4" cy="1580.4" r="26.0" fill="url(#hot)"/></g></g>
<g filter="url(#bl2_8)"><g clip-path="url(#c29)"><rect x="2529.1" y="1549.8" width="107.0" height="118.5" fill="url(#m29)"/><circle cx="2553.9" cy="1597.1" r="23.8" fill="url(#hot)"/></g></g>
<g filter="url(#bl2_8)"><g clip-path="url(#c30)"><rect x="2632.8" y="1546.9" width="109.0" height="122.8" fill="url(#m30)"/><circle cx="2680.2" cy="1583.0" r="28.3" fill="url(#hot)"/></g></g>
</svg></body></html>
